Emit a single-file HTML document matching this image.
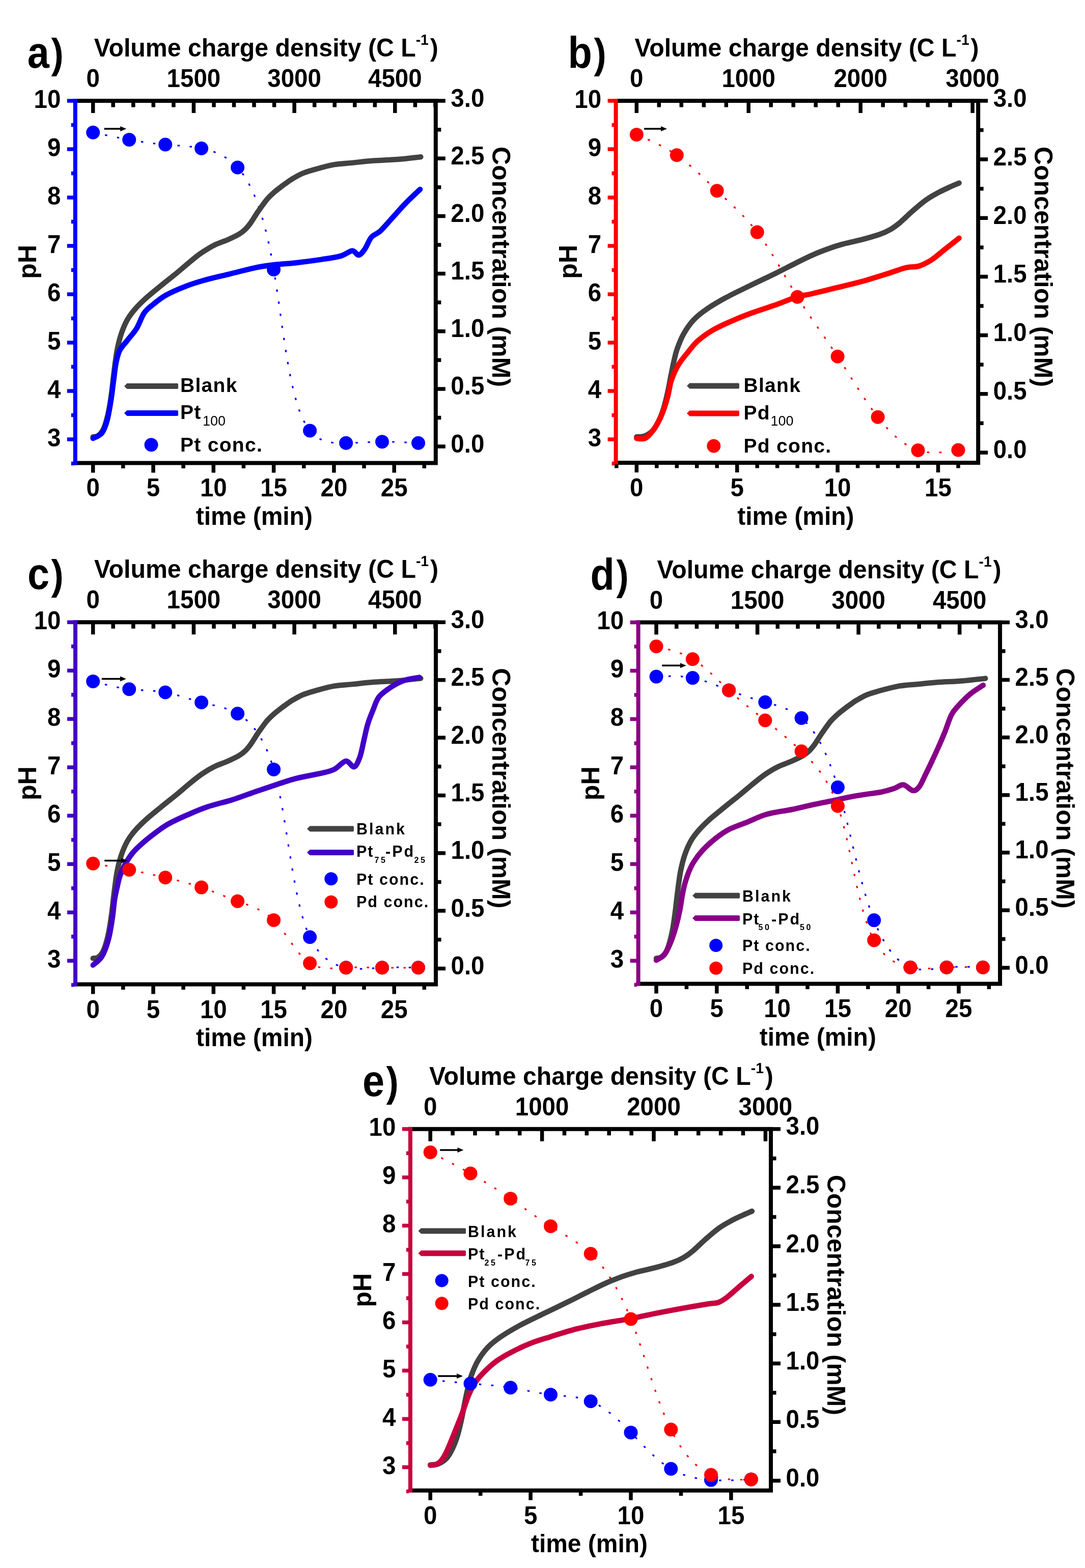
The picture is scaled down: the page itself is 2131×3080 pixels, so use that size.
<!DOCTYPE html>
<html><head><meta charset="utf-8"><title>pH and concentration vs time</title><style>html,body{margin:0;padding:0;background:#fff;overflow:hidden;}svg{display:block;}</style></head><body>
<svg width="2131" height="3080" viewBox="0 0 2131 3080" font-family="'Liberation Sans', Arial, sans-serif" font-weight="bold">
<rect width="2131" height="3080" fill="#fff"/>
<path d="M182.7,260.2 L184.6,260.6 L186.6,261 L188.5,261.4 L190.4,261.8 L192.4,262.2 L194.3,262.6 L196.2,263.1 L198.2,263.5 L200.1,263.9 L202,264.3 L203.9,264.7 L205.9,265.1 L207.8,265.5 L209.7,265.9 L211.7,266.3 L213.6,266.7 L215.5,267.1 L217.5,267.5 L219.4,267.9 L221.3,268.2 L223.3,268.6 L225.2,269 L227.1,269.4 L229.1,269.8 L231,270.2 L232.9,270.5 L234.9,270.9 L236.8,271.3 L238.8,271.7 L240.7,272 L242.6,272.4 L244.6,272.7 L246.5,273.1 L248.4,273.5 L250.4,273.8 L252.3,274.2 L254.3,274.5 L256.2,274.8 L258.1,275.2 L260.1,275.5 L262,275.8 L264,276.2 L265.9,276.5 L267.8,276.8 L269.8,277.1 L271.7,277.4 L273.7,277.7 L275.6,278 L277.6,278.3 L279.5,278.6 L281.4,278.9 L283.4,279.2 L285.3,279.5 L287.3,279.8 L289.2,280 L291.2,280.3 L293.1,280.5 L295.1,280.8 L297,281 L298.9,281.3 L300.9,281.5 L302.8,281.8 L304.8,282 L306.7,282.2 L308.7,282.4 L310.6,282.6 L312.6,282.9 L314.5,283.1 L316.5,283.2 L318.4,283.4 L320.4,283.6 L322.3,283.8 L324.2,284 L326.2,284.1 L328.1,284.3 L330.1,284.4 L332,284.6 L334,284.7 L335.9,284.9 L337.9,285 L339.8,285.2 L341.8,285.3 L343.7,285.4 L345.7,285.6 L347.6,285.7 L349.5,285.9 L351.5,286 L353.4,286.2 L355.4,286.3 L357.3,286.5 L359.3,286.6 L361.2,286.8 L363.2,287 L365.1,287.1 L367.1,287.3 L369,287.5 L371,287.7 L372.9,288 L374.9,288.2 L376.8,288.4 L378.8,288.7 L380.7,289 L382.7,289.2 L384.6,289.5 L386.6,289.8 L388.5,290.2 L390.5,290.5 L392.4,290.9 L394.4,291.2 L396.3,291.6 L398.3,292.1 L400.2,292.5 L402.2,292.9 L404.1,293.4 L406,293.9 L408,294.4 L409.9,295 L411.9,295.6 L413.8,296.2 L415.7,296.8 L417.7,297.4 L419.6,298.1 L421.5,298.8 L423.4,299.6 L425.3,300.3 L427.2,301.1 L429.1,302 L431,302.8 L432.8,303.7 L434.7,304.7 L436.6,305.6 L438.4,306.7 L440.2,307.7 L442,308.8 L443.9,309.9 L445.7,311.1 L447.4,312.3 L449.2,313.5 L451,314.8 L452.7,316.1 L454.4,317.5 L456.2,318.9 L457.9,320.4 L459.5,321.9 L461.2,323.5 L462.9,325.1 L464.5,326.7 L466.1,328.5 L467.7,330.2 L469.3,332 L470.9,333.9 L472.4,335.8 L473.9,337.8 L475.4,339.8 L476.9,341.8 L478.4,343.9 L479.9,346.1 L481.3,348.3 L482.7,350.6 L484.1,352.9 L485.5,355.2 L486.9,357.6 L488.3,360.1 L489.6,362.5 L490.9,365.1 L492.2,367.7 L493.5,370.3 L494.8,373 L496.1,375.7 L497.3,378.5 L498.6,381.3 L499.8,384.2 L501,387.1 L502.2,390 L503.4,393 L504.5,396.1 L505.7,399.2 L506.8,402.3 L507.9,405.5 L509,408.7 L510.1,411.9 L511.2,415.2 L512.3,418.6 L513.3,422 L514.4,425.4 L515.4,428.9 L516.4,432.4 L517.4,435.9 L518.4,439.5 L519.4,443.2 L520.3,446.8 L521.3,450.6 L522.2,454.3 L523.2,458.1 L524.1,462 L525,465.8 L525.9,469.7 L526.8,473.7 L527.7,477.7 L528.5,481.7 L529.4,485.8 L530.2,489.9 L531.1,494 L531.9,498.2 L532.7,502.4 L533.5,506.7 L534.3,511 L535.1,515.3 L535.9,519.7 L536.7,524 L537.4,528.5 L538.2,533 L538.9,537.5 L539.7,542 L540.4,546.6 L541.1,551.1 L541.8,555.8 L542.5,560.4 L543.2,565.1 L543.9,569.8 L544.6,574.5 L545.3,579.2 L546,583.9 L546.7,588.7 L547.4,593.5 L548.1,598.3 L548.8,603.1 L549.4,607.9 L550.1,612.7 L550.8,617.5 L551.5,622.3 L552.2,627.1 L552.8,631.9 L553.5,636.7 L554.2,641.5 L554.9,646.3 L555.6,651.1 L556.3,655.9 L557,660.7 L557.7,665.4 L558.4,670.2 L559.1,674.9 L559.9,679.6 L560.6,684.3 L561.3,688.9 L562.1,693.6 L562.8,698.2 L563.6,702.8 L564.4,707.4 L565.2,711.9 L565.9,716.4 L566.8,720.8 L567.6,725.3 L568.4,729.7 L569.2,734 L570.1,738.3 L571,742.6 L571.8,746.8 L572.7,751 L573.7,755.1 L574.6,759.2 L575.5,763.2 L576.5,767.2 L577.5,771.1 L578.4,775 L579.5,778.8 L580.5,782.5 L581.5,786.2 L582.6,789.8 L583.7,793.3 L584.8,796.8 L585.9,800.2 L587.1,803.6 L588.2,806.9 L589.4,810.1 L590.6,813.2 L591.9,816.2 L593.1,819.2 L594.4,822.1 L595.7,824.9 L597.1,827.6 L598.4,830.2 L599.8,832.8 L601.2,835.2 L602.7,837.6 L604.1,839.8 L605.6,842 L607.2,844.1 L608.7,846.1 L610.3,847.9 L611.9,849.7 L613.6,851.4 L615.2,853 L616.9,854.5 L618.6,855.9 L620.4,857.3 L622.1,858.5 L623.9,859.7 L625.7,860.8 L627.6,861.8 L629.4,862.7 L631.3,863.6 L633.1,864.4 L635,865.2 L637,865.8 L638.9,866.5 L640.8,867 L642.8,867.5 L644.7,868 L646.7,868.4 L648.7,868.8 L650.7,869.1 L652.7,869.4 L654.7,869.6 L656.7,869.8 L658.7,870 L660.8,870.1 L662.8,870.2 L664.8,870.3 L666.8,870.3 L668.9,870.4 L670.9,870.4 L672.9,870.4 L674.9,870.4 L677,870.3 L679,870.3 L681,870.3 L683,870.2 L685,870.2 L687,870.1 L689,870 L691,870 L693,869.9 L694.9,869.8 L696.9,869.8 L698.9,869.7 L700.8,869.6 L702.8,869.5 L704.8,869.4 L706.7,869.3 L708.7,869.2 L710.6,869.2 L712.6,869.1 L714.5,869 L716.4,868.9 L718.4,868.8 L720.3,868.7 L722.3,868.6 L724.2,868.5 L726.1,868.5 L728.1,868.4 L730,868.3 L731.9,868.2 L733.8,868.2 L735.8,868.1 L737.7,868.1 L739.6,868 L741.6,868 L743.5,867.9 L745.4,867.9 L747.4,867.8 L749.3,867.8 L751.2,867.8 L753.2,867.8 L755.1,867.8 L757,867.8 L759,867.8 L760.9,867.8 L762.9,867.8 L764.8,867.9 L766.8,867.9 L768.7,867.9 L770.7,868 L772.6,868 L774.5,868.1 L776.5,868.1 L778.4,868.2 L780.4,868.3 L782.4,868.3 L784.3,868.4 L786.3,868.5 L788.2,868.6 L790.2,868.6 L792.1,868.7 L794.1,868.8 L796,868.9 L798,869 L800,869.1 L801.9,869.2 L803.9,869.3 L805.8,869.4 L807.8,869.5 L809.8,869.6 L811.7,869.7 L813.7,869.9 L815.6,870 L817.6,870.1 L819.6,870.2 L821.5,870.3" fill="none" stroke="#0000FF" stroke-width="3.2" stroke-dasharray="4.5 19.5"/>
<path d="M182.7,858.2 C184.3,857.9 189,858.4 192.2,856.4 C195.3,854.3 198.9,850.8 201.6,845.9 C204.4,841 206.6,834.3 208.7,826.9 C210.9,819.5 212.9,810.8 214.6,801.2 C216.4,791.8 218,780.2 219.4,769.9 C220.8,759.6 221.7,749.3 222.9,739.5 C224.1,729.7 225.2,720 226.5,711 C227.7,702 228.6,694.5 230.5,685.3 C232.4,676.2 234.8,665.4 238.1,655.9 C241.3,646.4 245.4,636.4 249.9,628.4 C254.4,620.3 258.7,614.7 265,607.5 C271.3,600.2 279.4,592.3 287.8,584.7 C296.1,577.1 305.5,569.8 315.2,561.9 C324.9,553.9 336.9,544.6 346,537.2 C355,529.7 362.1,523.4 369.6,517.2 C377.1,511 384.2,505 390.9,500.1 C397.6,495.2 404.3,491.1 409.8,487.8 C415.4,484.4 417.7,483 424,480.1 C430.3,477.3 440.2,474 447.7,470.7 C455.2,467.3 463.3,463.5 469,460.2 C474.6,456.9 477.6,454.5 481.5,450.7 C485.5,446.9 488.4,443.3 492.6,437.4 C496.9,431.5 501.7,423 506.8,415.6 C512,408.1 518.3,398.9 523.4,392.8 C528.5,386.6 532.9,382.8 537.6,378.5 C542.3,374.2 547.7,370.3 551.8,367.1 C555.9,363.9 558.7,362 562.2,359.5 C565.8,357 567.7,355.1 573.1,351.9 C578.5,348.7 586.9,343.7 594.4,340.5 C601.9,337.3 607.8,335.8 618,332.9 C628.3,330 643.3,325.6 655.9,323.4 C668.5,321.2 681.1,320.9 693.8,319.6 C706.4,318.3 717,316.9 731.6,315.8 C746.2,314.7 765.5,314.2 781.3,313 C797.1,311.7 818.8,309 826.3,308.2" fill="none" stroke="#424242" stroke-width="10.5" stroke-linejoin="round" stroke-linecap="round"/>
<path d="M182.7,861.1 C185.6,859.4 195.6,856.5 200.2,850.6 C204.8,844.8 207.5,836.4 210.4,825.9 C213.3,815.5 215.7,800.5 217.7,788 C219.8,775.4 221,763.4 222.7,750.9 C224.4,738.4 225.8,723.3 227.9,712.9 C230,702.5 231.5,695.6 235.2,688.2 C239,680.8 244.9,675.4 250.4,668.2 C255.8,661.1 262.7,654.3 268.1,645.5 C273.6,636.6 277.6,623 283,615 C288.5,607.1 293.6,603.8 300.8,598 C307.9,592.1 315.4,585.8 325.8,579.9 C336.3,574 350.9,567.7 363.5,562.8 C376,557.9 386.4,554.6 401.1,550.5 C415.8,546.3 434.7,542.2 451.5,538.1 C468.2,534 487,528.8 501.6,525.8 C516.3,522.7 526.2,521.6 539.5,520 C552.8,518.5 566,518 581.4,516.2 C596.7,514.5 616.9,511.8 631.5,509.6 C646.2,507.4 659.1,505.8 669.1,502.9 C679.2,500.1 686,492.8 691.9,492.5 C697.7,492.2 700.2,501.7 704.4,501.1 C708.6,500.4 712.8,494.6 716.9,488.7 C721.1,482.8 724.4,471.8 729.5,465.9 C734.5,460 740.1,460.2 747.2,453.6 C754.4,446.9 763.9,435.2 772.3,426 C780.7,416.8 788.6,407.5 797.4,398.5 C806.2,389.4 820.5,376.3 825.1,371.9" fill="none" stroke="#0000FF" stroke-width="10.5" stroke-linejoin="round" stroke-linecap="round"/>
<circle cx="182.7" cy="260.2" r="13.5" fill="#0000FF"/><circle cx="253.7" cy="274.4" r="13.5" fill="#0000FF"/><circle cx="324.7" cy="284" r="13.5" fill="#0000FF"/><circle cx="395.6" cy="291.5" r="13.5" fill="#0000FF"/><circle cx="466.6" cy="329" r="13.5" fill="#0000FF"/><circle cx="537.6" cy="529.5" r="13.5" fill="#0000FF"/><circle cx="608.6" cy="845.9" r="13.5" fill="#0000FF"/><circle cx="679.6" cy="870.3" r="13.5" fill="#0000FF"/><circle cx="750.5" cy="867.8" r="13.5" fill="#0000FF"/><circle cx="821.5" cy="870.3" r="13.5" fill="#0000FF"/>
<line x1="204.6" y1="253" x2="240.2" y2="253" stroke="#000" stroke-width="3.5"/><path d="M236.2,248 L248.2,253 L236.2,258 Z" fill="#000"/>
<polygon points="244,758.5 249.5,753 348.5,753 350,754.5 350,762.5 348.5,764 249.5,764" fill="#424242"/>
<polygon points="244,811.5 249.5,806 348.5,806 350,807.5 350,815.5 348.5,817 249.5,817" fill="#0000FF"/>
<circle cx="297" cy="873.7" r="13.5" fill="#0000FF"/>
<text x="354" y="770.4" font-size="39" text-anchor="start" fill="#000" letter-spacing="1.3">Blank</text>
<text x="354" y="823" font-size="39" letter-spacing="1.3">Pt<tspan x="398" y="836" font-size="27" font-weight="normal" letter-spacing="0">100</tspan></text>
<text x="354" y="887" font-size="39" text-anchor="start" fill="#000" letter-spacing="1.3">Pt conc.</text>
<path d="M147.8,198 H855.8 V909.4 H147.8" fill="none" stroke="#000" stroke-width="8" stroke-linecap="square"/>
<line x1="147.8" y1="198" x2="147.8" y2="909.4" stroke="#0000FF" stroke-width="8" stroke-linecap="square"/>
<path d="M182.7,912.4 V928.4 M301,912.4 V928.4 M419.3,912.4 V928.4 M537.6,912.4 V928.4 M655.9,912.4 V928.4 M774.2,912.4 V928.4 M241.8,912.4 V919.9 M360.1,912.4 V919.9 M478.4,912.4 V919.9 M596.8,912.4 V919.9 M715,912.4 V919.9 M833.3,912.4 V919.9 M182.7,201 V222 M222.2,201 V210.5 M261.8,201 V210.5 M301.3,201 V210.5 M340.9,201 V210.5 M380.4,201 V222 M420,201 V210.5 M459.5,201 V210.5 M499,201 V210.5 M538.6,201 V210.5 M578.1,201 V222 M617.7,201 V210.5 M657.2,201 V210.5 M696.8,201 V210.5 M736.3,201 V210.5 M775.8,201 V222 M815.4,201 V210.5 M854.9,201 V210.5 M858.8,877 H874.8 M858.8,820.4 H866.3 M858.8,763.9 H874.8 M858.8,707.3 H866.3 M858.8,650.7 H874.8 M858.8,594.1 H866.3 M858.8,537.5 H874.8 M858.8,481 H866.3 M858.8,424.4 H874.8 M858.8,367.8 H866.3 M858.8,311.2 H874.8 M858.8,254.7 H866.3 M858.8,198.1 H874.8" stroke="#000" stroke-width="7.5" fill="none"/>
<path d="M144.8,198 H131.8 M144.8,245.5 H139.8 M144.8,293 H131.8 M144.8,340.5 H139.8 M144.8,388 H131.8 M144.8,435.5 H139.8 M144.8,483 H131.8 M144.8,530.5 H139.8 M144.8,578 H131.8 M144.8,625.5 H139.8 M144.8,673 H131.8 M144.8,720.5 H139.8 M144.8,768 H131.8 M144.8,815.5 H139.8 M144.8,863 H131.8 M144.8,910.5 H139.8" stroke="#0000FF" stroke-width="7.5" fill="none"/>
<text transform="translate(182.7,975.4) scale(0.940,1)" font-size="50.5" text-anchor="middle">0</text>
<text transform="translate(301,975.4) scale(0.940,1)" font-size="50.5" text-anchor="middle">5</text>
<text transform="translate(419.3,975.4) scale(0.940,1)" font-size="50.5" text-anchor="middle">10</text>
<text transform="translate(537.6,975.4) scale(0.940,1)" font-size="50.5" text-anchor="middle">15</text>
<text transform="translate(655.9,975.4) scale(0.940,1)" font-size="50.5" text-anchor="middle">20</text>
<text transform="translate(774.2,975.4) scale(0.940,1)" font-size="50.5" text-anchor="middle">25</text>
<text transform="translate(182.7,171) scale(0.940,1)" font-size="50.5" text-anchor="middle">0</text>
<text transform="translate(380.4,171) scale(0.940,1)" font-size="50.5" text-anchor="middle">1500</text>
<text transform="translate(578.1,171) scale(0.940,1)" font-size="50.5" text-anchor="middle">3000</text>
<text transform="translate(775.8,171) scale(0.940,1)" font-size="50.5" text-anchor="middle">4500</text>
<text transform="translate(119.3,876.5) scale(0.940,1)" font-size="50.5" text-anchor="end">3</text>
<text transform="translate(119.3,781.5) scale(0.940,1)" font-size="50.5" text-anchor="end">4</text>
<text transform="translate(119.3,686.5) scale(0.940,1)" font-size="50.5" text-anchor="end">5</text>
<text transform="translate(119.3,591.5) scale(0.940,1)" font-size="50.5" text-anchor="end">6</text>
<text transform="translate(119.3,496.5) scale(0.940,1)" font-size="50.5" text-anchor="end">7</text>
<text transform="translate(119.3,401.5) scale(0.940,1)" font-size="50.5" text-anchor="end">8</text>
<text transform="translate(119.3,306.5) scale(0.940,1)" font-size="50.5" text-anchor="end">9</text>
<text transform="translate(119.3,211.5) scale(0.940,1)" font-size="50.5" text-anchor="end">10</text>
<text transform="translate(885.3,888.5) scale(0.940,1)" font-size="50.5" text-anchor="start">0.0</text>
<text transform="translate(885.3,775.4) scale(0.940,1)" font-size="50.5" text-anchor="start">0.5</text>
<text transform="translate(885.3,662.2) scale(0.940,1)" font-size="50.5" text-anchor="start">1.0</text>
<text transform="translate(885.3,549) scale(0.940,1)" font-size="50.5" text-anchor="start">1.5</text>
<text transform="translate(885.3,435.9) scale(0.940,1)" font-size="50.5" text-anchor="start">2.0</text>
<text transform="translate(885.3,322.8) scale(0.940,1)" font-size="50.5" text-anchor="start">2.5</text>
<text transform="translate(885.3,209.6) scale(0.940,1)" font-size="50.5" text-anchor="start">3.0</text>
<text transform="translate(499.3,1030.9) scale(0.952,1)" font-size="50.4" text-anchor="middle">time (min)</text>
<text transform="translate(184.8,111) scale(0.975,1)" font-size="49.5" text-anchor="start">Volume charge density (C L<tspan font-size="29" dy="-23">-1</tspan><tspan dy="23" dx="3">)</tspan></text>
<text transform="translate(70.8,514.3) rotate(-90)" font-size="50" text-anchor="middle">pH</text>
<text transform="translate(966.8,524) rotate(90)" font-size="50" text-anchor="middle">Concentration (mM)</text>
<text transform="translate(53.8,133) scale(0.890,1)" font-size="87" text-anchor="start">a<tspan font-size="82" dx="4">)</tspan></text>
<path d="M1250.3,264.4 L1252.1,265.2 L1254,266 L1255.8,266.7 L1257.6,267.5 L1259.5,268.3 L1261.3,269.1 L1263.1,269.9 L1265,270.7 L1266.8,271.5 L1268.6,272.3 L1270.4,273.1 L1272.3,273.9 L1274.1,274.7 L1275.9,275.5 L1277.7,276.4 L1279.5,277.2 L1281.4,278 L1283.2,278.9 L1285,279.7 L1286.8,280.6 L1288.6,281.5 L1290.4,282.3 L1292.2,283.2 L1294,284.1 L1295.8,285 L1297.6,286 L1299.4,286.9 L1301.2,287.8 L1303,288.8 L1304.7,289.7 L1306.5,290.7 L1308.3,291.7 L1310.1,292.7 L1311.8,293.7 L1313.6,294.8 L1315.4,295.8 L1317.1,296.9 L1318.9,298 L1320.6,299.1 L1322.4,300.2 L1324.1,301.3 L1325.8,302.5 L1327.5,303.6 L1329.3,304.8 L1331,306 L1332.7,307.2 L1334.4,308.5 L1336.1,309.7 L1337.8,311 L1339.5,312.3 L1341.2,313.6 L1342.9,314.9 L1344.5,316.2 L1346.2,317.6 L1347.9,318.9 L1349.6,320.3 L1351.2,321.7 L1352.9,323.1 L1354.5,324.5 L1356.2,325.9 L1357.8,327.4 L1359.5,328.8 L1361.1,330.3 L1362.8,331.7 L1364.4,333.2 L1366.1,334.7 L1367.7,336.2 L1369.3,337.7 L1371,339.2 L1372.6,340.7 L1374.2,342.2 L1375.8,343.8 L1377.5,345.3 L1379.1,346.8 L1380.7,348.4 L1382.3,349.9 L1384,351.5 L1385.6,353 L1387.2,354.6 L1388.8,356.1 L1390.4,357.7 L1392.1,359.2 L1393.7,360.8 L1395.3,362.3 L1396.9,363.9 L1398.5,365.5 L1400.2,367 L1401.8,368.6 L1403.4,370.1 L1405,371.7 L1406.6,373.2 L1408.3,374.7 L1409.9,376.3 L1411.5,377.8 L1413.1,379.3 L1414.8,380.9 L1416.4,382.4 L1418,383.9 L1419.7,385.4 L1421.3,387 L1422.9,388.5 L1424.5,390 L1426.2,391.5 L1427.8,393.1 L1429.4,394.6 L1431.1,396.1 L1432.7,397.6 L1434.3,399.2 L1435.9,400.7 L1437.5,402.2 L1439.2,403.8 L1440.8,405.3 L1442.4,406.9 L1444,408.5 L1445.6,410 L1447.2,411.6 L1448.8,413.2 L1450.4,414.8 L1452,416.4 L1453.6,418 L1455.2,419.6 L1456.8,421.2 L1458.4,422.9 L1460,424.5 L1461.6,426.2 L1463.1,427.9 L1464.7,429.5 L1466.3,431.2 L1467.8,433 L1469.4,434.7 L1470.9,436.4 L1472.5,438.2 L1474,439.9 L1475.5,441.7 L1477.1,443.5 L1478.6,445.3 L1480.1,447.2 L1481.6,449 L1483.1,450.9 L1484.6,452.8 L1486.1,454.7 L1487.6,456.6 L1489.1,458.6 L1490.5,460.6 L1492,462.5 L1493.5,464.6 L1494.9,466.6 L1496.4,468.6 L1497.8,470.7 L1499.2,472.8 L1500.6,474.8 L1502.1,477 L1503.5,479.1 L1504.9,481.2 L1506.3,483.4 L1507.7,485.5 L1509.1,487.7 L1510.5,489.9 L1511.9,492.1 L1513.3,494.3 L1514.7,496.5 L1516,498.7 L1517.4,501 L1518.8,503.2 L1520.2,505.5 L1521.5,507.7 L1522.9,510 L1524.3,512.3 L1525.6,514.6 L1527,516.9 L1528.3,519.2 L1529.7,521.5 L1531,523.8 L1532.4,526.1 L1533.7,528.4 L1535.1,530.7 L1536.4,533 L1537.8,535.3 L1539.1,537.7 L1540.5,540 L1541.8,542.3 L1543.2,544.6 L1544.5,546.9 L1545.9,549.3 L1547.2,551.6 L1548.6,553.9 L1549.9,556.2 L1551.3,558.5 L1552.6,560.8 L1554,563.1 L1555.4,565.4 L1556.7,567.7 L1558.1,570 L1559.5,572.2 L1560.8,574.5 L1562.2,576.8 L1563.6,579 L1564.9,581.3 L1566.3,583.5 L1567.7,585.7 L1569.1,587.9 L1570.5,590.1 L1571.9,592.3 L1573.3,594.5 L1574.7,596.7 L1576.1,598.9 L1577.5,601 L1578.9,603.2 L1580.3,605.3 L1581.7,607.5 L1583.1,609.6 L1584.6,611.8 L1586,613.9 L1587.4,616 L1588.8,618.1 L1590.3,620.2 L1591.7,622.3 L1593.1,624.4 L1594.5,626.5 L1596,628.6 L1597.4,630.7 L1598.8,632.8 L1600.3,634.9 L1601.7,636.9 L1603.1,639 L1604.6,641.1 L1606,643.2 L1607.5,645.2 L1608.9,647.3 L1610.3,649.4 L1611.8,651.4 L1613.2,653.5 L1614.6,655.6 L1616.1,657.6 L1617.5,659.7 L1618.9,661.8 L1620.4,663.8 L1621.8,665.9 L1623.3,668 L1624.7,670.1 L1626.1,672.1 L1627.5,674.2 L1629,676.3 L1630.4,678.4 L1631.8,680.5 L1633.2,682.6 L1634.7,684.7 L1636.1,686.8 L1637.5,688.9 L1638.9,691 L1640.3,693.1 L1641.7,695.2 L1643.2,697.3 L1644.6,699.5 L1646,701.6 L1647.4,703.8 L1648.8,705.9 L1650.2,708.1 L1651.5,710.2 L1652.9,712.4 L1654.3,714.6 L1655.7,716.7 L1657.1,718.9 L1658.5,721.1 L1659.9,723.3 L1661.3,725.5 L1662.6,727.7 L1664,729.9 L1665.4,732.1 L1666.8,734.3 L1668.2,736.5 L1669.5,738.6 L1670.9,740.8 L1672.3,743 L1673.7,745.2 L1675.1,747.4 L1676.4,749.6 L1677.8,751.8 L1679.2,754 L1680.6,756.2 L1682,758.4 L1683.4,760.6 L1684.8,762.7 L1686.2,764.9 L1687.6,767.1 L1689,769.2 L1690.4,771.4 L1691.8,773.6 L1693.2,775.7 L1694.6,777.9 L1696,780 L1697.4,782.1 L1698.8,784.2 L1700.3,786.4 L1701.7,788.5 L1703.1,790.6 L1704.6,792.7 L1706,794.7 L1707.5,796.8 L1708.9,798.9 L1710.4,800.9 L1711.8,803 L1713.3,805 L1714.8,807 L1716.2,809 L1717.7,811 L1719.2,813 L1720.7,815 L1722.2,816.9 L1723.7,818.9 L1725.3,820.8 L1726.8,822.7 L1728.3,824.6 L1729.8,826.5 L1731.4,828.4 L1732.9,830.3 L1734.5,832.1 L1736.1,833.9 L1737.6,835.7 L1739.2,837.5 L1740.8,839.3 L1742.4,841 L1744,842.7 L1745.6,844.4 L1747.2,846.1 L1748.8,847.8 L1750.4,849.4 L1752.1,851 L1753.7,852.6 L1755.4,854.1 L1757,855.7 L1758.7,857.2 L1760.3,858.6 L1762,860.1 L1763.7,861.5 L1765.4,862.9 L1767,864.3 L1768.7,865.6 L1770.4,866.9 L1772.1,868.1 L1773.9,869.4 L1775.6,870.6 L1777.3,871.7 L1779,872.9 L1780.8,874 L1782.5,875 L1784.3,876.1 L1786,877.1 L1787.8,878 L1789.6,878.9 L1791.3,879.8 L1793.1,880.6 L1794.9,881.4 L1796.7,882.2 L1798.5,882.9 L1800.3,883.6 L1802.1,884.2 L1804,884.8 L1805.8,885.3 L1807.6,885.8 L1809.4,886.3 L1811.3,886.7 L1813.1,887.1 L1815,887.5 L1816.8,887.8 L1818.7,888 L1820.6,888.3 L1822.4,888.5 L1824.3,888.7 L1826.2,888.8 L1828.1,888.9 L1830,889 L1831.9,889.1 L1833.8,889.1 L1835.7,889.1 L1837.6,889.1 L1839.5,889 L1841.4,888.9 L1843.3,888.8 L1845.2,888.7 L1847.1,888.6 L1849.1,888.4 L1851,888.3 L1852.9,888.1 L1854.8,887.9 L1856.8,887.7 L1858.7,887.4 L1860.6,887.2 L1862.6,886.9 L1864.5,886.7 L1866.4,886.4 L1868.4,886.1 L1870.3,885.8 L1872.3,885.5 L1874.2,885.2 L1876.1,884.9 L1878.1,884.6 L1880,884.3 L1882,884" fill="none" stroke="#FF0000" stroke-width="3.2" stroke-dasharray="4.5 19.5"/>
<path d="M1250.3,858.2 C1252.9,857.9 1260.8,858.4 1266.1,856.4 C1271.4,854.3 1277.3,850.8 1281.9,845.9 C1286.5,841 1290.1,834.3 1293.7,826.9 C1297.3,819.5 1300.6,810.8 1303.6,801.2 C1306.6,791.8 1309.2,780.2 1311.5,769.9 C1313.8,759.6 1315.4,749.3 1317.4,739.5 C1319.4,729.7 1321.2,720 1323.3,711 C1325.4,702 1326.8,694.5 1330,685.3 C1333.3,676.2 1337.3,665.4 1342.7,655.9 C1348.1,646.4 1354.9,636.4 1362.4,628.4 C1369.9,620.3 1377.2,614.7 1387.7,607.5 C1398.2,600.2 1411.6,592.3 1425.6,584.7 C1439.5,577.1 1455.2,569.8 1471.4,561.9 C1487.6,553.9 1507.6,544.6 1522.7,537.2 C1537.8,529.7 1549.7,523.4 1562.2,517.2 C1574.7,511 1586.5,505 1597.7,500.1 C1608.9,495.2 1620.1,491.1 1629.3,487.8 C1638.5,484.4 1642.5,483 1653,480.1 C1663.5,477.3 1680,474 1692.5,470.7 C1705,467.3 1718.6,463.5 1728,460.2 C1737.4,456.9 1742.4,454.5 1748.9,450.7 C1755.5,446.9 1760.4,443.3 1767.5,437.4 C1774.5,431.5 1782.6,423 1791.2,415.6 C1799.7,408.1 1810.3,398.9 1818.8,392.8 C1827.4,386.6 1834.6,382.8 1842.5,378.5 C1850.4,374.2 1859.3,370.3 1866.2,367.1 C1873,363.9 1880.7,360.8 1883.6,359.5" fill="none" stroke="#424242" stroke-width="10.5" stroke-linejoin="round" stroke-linecap="round"/>
<path d="M1250.3,861.1 C1253.1,861.1 1261.6,863.6 1266.9,861.1 C1272.2,858.6 1277.7,851.8 1282.3,845.9 C1286.9,840 1290.8,833.4 1294.5,825.9 C1298.3,818.5 1301.8,809.6 1304.8,801.2 C1307.7,792.9 1310.2,784 1312.3,775.6 C1314.4,767.2 1315.3,758.3 1317.4,750.9 C1319.5,743.5 1322,737.3 1324.9,731 C1327.8,724.6 1330.6,719.2 1334.8,712.9 C1339,706.6 1344.3,700.1 1350.2,693 C1356,685.8 1361.6,677.6 1369.9,670.1 C1378.3,662.7 1389,654.9 1400.3,648.3 C1411.6,641.6 1425.3,635.8 1437.8,630.2 C1450.4,624.7 1461.1,620.4 1475.7,615 C1490.4,609.7 1510.8,603.3 1525.9,598 C1540.9,592.6 1555.4,586.1 1566.1,582.8 C1576.9,579.4 1577.8,580.9 1590.2,578 C1602.7,575.1 1623.9,569.8 1640.8,565.7 C1657.6,561.5 1674.5,557.9 1691.3,553.3 C1708.1,548.7 1726.8,542.7 1741.4,538.1 C1756.1,533.5 1768.9,528.3 1779.3,525.8 C1789.8,523.2 1795.8,525.4 1804.2,522.9 C1812.6,520.4 1821,515.9 1829.5,510.6 C1837.9,505.2 1845.7,497.7 1854.7,490.6 C1863.8,483.5 1878.8,471.6 1883.6,467.8" fill="none" stroke="#FF0000" stroke-width="10.5" stroke-linejoin="round" stroke-linecap="round"/>
<circle cx="1250.3" cy="264.4" r="13.5" fill="#FF0000"/><circle cx="1329.3" cy="304.8" r="13.5" fill="#FF0000"/><circle cx="1408.2" cy="374.7" r="13.5" fill="#FF0000"/><circle cx="1487.2" cy="456.1" r="13.5" fill="#FF0000"/><circle cx="1566.1" cy="583.2" r="13.5" fill="#FF0000"/><circle cx="1645.1" cy="700.3" r="13.5" fill="#FF0000"/><circle cx="1724.1" cy="819.3" r="13.5" fill="#FF0000"/><circle cx="1803" cy="884.5" r="13.5" fill="#FF0000"/><circle cx="1882" cy="884" r="13.5" fill="#FF0000"/>
<line x1="1265" y1="253" x2="1302" y2="253" stroke="#000" stroke-width="3.5"/><path d="M1298,248 L1310,253 L1298,258 Z" fill="#000"/>
<polygon points="1349,758.1 1354.5,752.6 1450.5,752.6 1452,754.1 1452,762.1 1450.5,763.6 1354.5,763.6" fill="#424242"/>
<polygon points="1349,812 1354.5,806.5 1450.5,806.5 1452,808 1452,816 1450.5,817.5 1354.5,817.5" fill="#FF0000"/>
<circle cx="1401.8" cy="876" r="13.5" fill="#FF0000"/>
<text x="1460.5" y="770" font-size="39" text-anchor="start" fill="#000" letter-spacing="1.3">Blank</text>
<text x="1460.5" y="823.5" font-size="39" letter-spacing="1.3">Pd<tspan x="1513.5" y="836" font-size="27" font-weight="normal" letter-spacing="0">100</tspan></text>
<text x="1460.5" y="888.5" font-size="39" text-anchor="start" fill="#000" letter-spacing="1.3">Pd conc.</text>
<path d="M1209.6,198 H1921.2 V909 H1209.6" fill="none" stroke="#000" stroke-width="8" stroke-linecap="square"/>
<line x1="1209.6" y1="198" x2="1209.6" y2="909" stroke="#FF0000" stroke-width="8" stroke-linecap="square"/>
<path d="M1250.3,912 V928 M1447.7,912 V928 M1645.1,912 V928 M1842.5,912 V928 M1210.8,912 V919.5 M1289.8,912 V919.5 M1329.3,912 V919.5 M1368.7,912 V919.5 M1408.2,912 V919.5 M1487.2,912 V919.5 M1526.7,912 V919.5 M1566.1,912 V919.5 M1605.6,912 V919.5 M1684.6,912 V919.5 M1724.1,912 V919.5 M1763.5,912 V919.5 M1803,912 V919.5 M1882,912 V919.5 M1250.3,201 V222 M1294.3,201 V210.5 M1338.3,201 V210.5 M1382.3,201 V210.5 M1426.3,201 V210.5 M1470.2,201 V222 M1514.2,201 V210.5 M1558.2,201 V210.5 M1602.2,201 V210.5 M1646.2,201 V210.5 M1690.2,201 V222 M1734.2,201 V210.5 M1778.2,201 V210.5 M1822.2,201 V210.5 M1866.1,201 V210.5 M1910.1,201 V222 M1924.2,888.9 H1940.2 M1924.2,831.3 H1931.7 M1924.2,773.8 H1940.2 M1924.2,716.2 H1931.7 M1924.2,658.6 H1940.2 M1924.2,601 H1931.7 M1924.2,543.4 H1940.2 M1924.2,485.9 H1931.7 M1924.2,428.3 H1940.2 M1924.2,370.7 H1931.7 M1924.2,313.1 H1940.2 M1924.2,255.6 H1931.7 M1924.2,198 H1940.2" stroke="#000" stroke-width="7.5" fill="none"/>
<path d="M1206.6,198 H1193.6 M1206.6,245.5 H1201.6 M1206.6,293 H1193.6 M1206.6,340.5 H1201.6 M1206.6,388 H1193.6 M1206.6,435.5 H1201.6 M1206.6,483 H1193.6 M1206.6,530.5 H1201.6 M1206.6,578 H1193.6 M1206.6,625.5 H1201.6 M1206.6,673 H1193.6 M1206.6,720.5 H1201.6 M1206.6,768 H1193.6 M1206.6,815.5 H1201.6 M1206.6,863 H1193.6 M1206.6,910.5 H1201.6" stroke="#FF0000" stroke-width="7.5" fill="none"/>
<text transform="translate(1250.3,975) scale(0.940,1)" font-size="50.5" text-anchor="middle">0</text>
<text transform="translate(1447.7,975) scale(0.940,1)" font-size="50.5" text-anchor="middle">5</text>
<text transform="translate(1645.1,975) scale(0.940,1)" font-size="50.5" text-anchor="middle">10</text>
<text transform="translate(1842.5,975) scale(0.940,1)" font-size="50.5" text-anchor="middle">15</text>
<text transform="translate(1250.3,171) scale(0.940,1)" font-size="50.5" text-anchor="middle">0</text>
<text transform="translate(1470.2,171) scale(0.940,1)" font-size="50.5" text-anchor="middle">1000</text>
<text transform="translate(1690.2,171) scale(0.940,1)" font-size="50.5" text-anchor="middle">2000</text>
<text transform="translate(1910.1,171) scale(0.940,1)" font-size="50.5" text-anchor="middle">3000</text>
<text transform="translate(1181.1,876.5) scale(0.940,1)" font-size="50.5" text-anchor="end">3</text>
<text transform="translate(1181.1,781.5) scale(0.940,1)" font-size="50.5" text-anchor="end">4</text>
<text transform="translate(1181.1,686.5) scale(0.940,1)" font-size="50.5" text-anchor="end">5</text>
<text transform="translate(1181.1,591.5) scale(0.940,1)" font-size="50.5" text-anchor="end">6</text>
<text transform="translate(1181.1,496.5) scale(0.940,1)" font-size="50.5" text-anchor="end">7</text>
<text transform="translate(1181.1,401.5) scale(0.940,1)" font-size="50.5" text-anchor="end">8</text>
<text transform="translate(1181.1,306.5) scale(0.940,1)" font-size="50.5" text-anchor="end">9</text>
<text transform="translate(1181.1,211.5) scale(0.940,1)" font-size="50.5" text-anchor="end">10</text>
<text transform="translate(1950.7,900.4) scale(0.940,1)" font-size="50.5" text-anchor="start">0.0</text>
<text transform="translate(1950.7,785.2) scale(0.940,1)" font-size="50.5" text-anchor="start">0.5</text>
<text transform="translate(1950.7,670.1) scale(0.940,1)" font-size="50.5" text-anchor="start">1.0</text>
<text transform="translate(1950.7,554.9) scale(0.940,1)" font-size="50.5" text-anchor="start">1.5</text>
<text transform="translate(1950.7,439.8) scale(0.940,1)" font-size="50.5" text-anchor="start">2.0</text>
<text transform="translate(1950.7,324.6) scale(0.940,1)" font-size="50.5" text-anchor="start">2.5</text>
<text transform="translate(1950.7,209.5) scale(0.940,1)" font-size="50.5" text-anchor="start">3.0</text>
<text transform="translate(1562.9,1030.5) scale(0.952,1)" font-size="50.4" text-anchor="middle">time (min)</text>
<text transform="translate(1246.6,111) scale(0.975,1)" font-size="49.5" text-anchor="start">Volume charge density (C L<tspan font-size="29" dy="-23">-1</tspan><tspan dy="23" dx="3">)</tspan></text>
<text transform="translate(1132.6,514.3) rotate(-90)" font-size="50" text-anchor="middle">pH</text>
<text transform="translate(2032.2,524) rotate(90)" font-size="50" text-anchor="middle">Concentration (mM)</text>
<text transform="translate(1115.6,133) scale(0.890,1)" font-size="87" text-anchor="start">b<tspan font-size="82" dx="4">)</tspan></text>
<path d="M182.7,1338.4 L184.6,1338.9 L186.5,1339.4 L188.3,1339.9 L190.2,1340.4 L192.1,1340.9 L194,1341.4 L195.9,1341.9 L197.7,1342.4 L199.6,1342.8 L201.5,1343.3 L203.4,1343.8 L205.3,1344.3 L207.2,1344.7 L209,1345.2 L210.9,1345.7 L212.8,1346.1 L214.7,1346.6 L216.6,1347 L218.5,1347.4 L220.3,1347.9 L222.2,1348.3 L224.1,1348.7 L226,1349.1 L227.9,1349.5 L229.8,1349.9 L231.7,1350.2 L233.6,1350.6 L235.5,1350.9 L237.4,1351.3 L239.3,1351.6 L241.2,1351.9 L243,1352.2 L244.9,1352.5 L246.8,1352.8 L248.7,1353.1 L250.6,1353.3 L252.6,1353.6 L254.5,1353.8 L256.4,1354 L258.3,1354.2 L260.2,1354.4 L262.1,1354.6 L264,1354.7 L265.9,1354.9 L267.8,1355 L269.7,1355.1 L271.6,1355.3 L273.6,1355.4 L275.5,1355.5 L277.4,1355.6 L279.3,1355.7 L281.2,1355.9 L283.1,1356 L285,1356.1 L286.9,1356.2 L288.9,1356.3 L290.8,1356.4 L292.7,1356.5 L294.6,1356.6 L296.5,1356.8 L298.4,1356.9 L300.3,1357.1 L302.2,1357.2 L304.1,1357.4 L306,1357.5 L307.9,1357.7 L309.8,1357.9 L311.7,1358.1 L313.6,1358.4 L315.5,1358.6 L317.4,1358.9 L319.3,1359.1 L321.2,1359.4 L323.1,1359.7 L325,1360.1 L326.9,1360.4 L328.7,1360.8 L330.6,1361.2 L332.5,1361.6 L334.4,1362 L336.2,1362.4 L338.1,1362.9 L340,1363.4 L341.9,1363.9 L343.7,1364.4 L345.6,1364.9 L347.5,1365.4 L349.3,1365.9 L351.2,1366.5 L353.1,1367 L354.9,1367.6 L356.8,1368.1 L358.7,1368.7 L360.5,1369.3 L362.4,1369.8 L364.3,1370.4 L366.1,1371 L368,1371.6 L369.9,1372.2 L371.7,1372.7 L373.6,1373.3 L375.5,1373.9 L377.4,1374.5 L379.2,1375 L381.1,1375.6 L383,1376.2 L384.9,1376.7 L386.8,1377.3 L388.6,1377.8 L390.5,1378.3 L392.4,1378.8 L394.3,1379.4 L396.2,1379.8 L398.1,1380.3 L400,1380.8 L401.9,1381.3 L403.8,1381.7 L405.7,1382.2 L407.6,1382.6 L409.6,1383 L411.5,1383.5 L413.4,1383.9 L415.3,1384.3 L417.2,1384.8 L419.1,1385.2 L421,1385.6 L422.9,1386.1 L424.8,1386.5 L426.7,1387 L428.6,1387.5 L430.5,1388 L432.4,1388.5 L434.3,1389 L436.2,1389.5 L438,1390 L439.9,1390.6 L441.8,1391.2 L443.6,1391.8 L445.5,1392.4 L447.3,1393 L449.2,1393.7 L451,1394.4 L452.8,1395.1 L454.6,1395.9 L456.4,1396.7 L458.2,1397.5 L460,1398.3 L461.8,1399.2 L463.6,1400.1 L465.3,1401.1 L467.1,1402.1 L468.8,1403.1 L470.5,1404.2 L472.2,1405.3 L474,1406.4 L475.6,1407.6 L477.3,1408.9 L479,1410.2 L480.6,1411.5 L482.3,1412.9 L483.9,1414.3 L485.5,1415.7 L487.1,1417.2 L488.7,1418.8 L490.3,1420.4 L491.9,1422 L493.4,1423.7 L494.9,1425.4 L496.5,1427.2 L498,1429 L499.5,1430.9 L501,1432.8 L502.4,1434.7 L503.9,1436.8 L505.3,1438.8 L506.8,1440.9 L508.2,1443.1 L509.6,1445.3 L511,1447.6 L512.3,1449.9 L513.7,1452.2 L515,1454.6 L516.3,1457.1 L517.6,1459.6 L518.9,1462.2 L520.2,1464.8 L521.5,1467.5 L522.7,1470.2 L524,1473 L525.2,1475.9 L526.4,1478.8 L527.6,1481.7 L528.7,1484.7 L529.9,1487.8 L531,1490.9 L532.1,1494.1 L533.2,1497.3 L534.3,1500.6 L535.4,1504 L536.4,1507.4 L537.4,1510.9 L538.5,1514.4 L539.5,1518 L540.4,1521.6 L541.4,1525.3 L542.3,1529.1 L543.3,1532.9 L544.2,1536.8 L545.1,1540.7 L546,1544.6 L546.9,1548.6 L547.7,1552.7 L548.6,1556.7 L549.4,1560.9 L550.3,1565 L551.1,1569.2 L551.9,1573.4 L552.7,1577.7 L553.5,1582 L554.3,1586.3 L555,1590.6 L555.8,1595 L556.6,1599.4 L557.3,1603.8 L558.1,1608.3 L558.8,1612.7 L559.6,1617.2 L560.3,1621.7 L561,1626.2 L561.8,1630.7 L562.5,1635.3 L563.2,1639.8 L564,1644.4 L564.7,1648.9 L565.4,1653.5 L566.1,1658 L566.8,1662.6 L567.6,1667.1 L568.3,1671.7 L569,1676.2 L569.8,1680.8 L570.5,1685.3 L571.2,1689.8 L572,1694.4 L572.7,1698.9 L573.5,1703.3 L574.2,1707.8 L575,1712.3 L575.8,1716.7 L576.5,1721.1 L577.3,1725.5 L578.1,1729.8 L578.9,1734.2 L579.7,1738.5 L580.6,1742.7 L581.4,1747 L582.2,1751.2 L583.1,1755.4 L584,1759.5 L584.8,1763.6 L585.7,1767.6 L586.6,1771.7 L587.6,1775.6 L588.5,1779.6 L589.4,1783.4 L590.4,1787.3 L591.4,1791 L592.4,1794.8 L593.4,1798.4 L594.4,1802 L595.5,1805.6 L596.6,1809.1 L597.6,1812.5 L598.8,1815.9 L599.9,1819.2 L601,1822.5 L602.2,1825.6 L603.4,1828.7 L604.6,1831.8 L605.9,1834.7 L607.1,1837.6 L608.4,1840.4 L609.7,1843.2 L611.1,1845.8 L612.4,1848.4 L613.8,1850.9 L615.2,1853.3 L616.6,1855.7 L618.1,1858 L619.5,1860.2 L621,1862.3 L622.5,1864.4 L624.1,1866.4 L625.6,1868.4 L627.2,1870.2 L628.8,1872 L630.4,1873.8 L632,1875.5 L633.6,1877.1 L635.3,1878.7 L636.9,1880.2 L638.6,1881.6 L640.3,1883 L642,1884.3 L643.7,1885.6 L645.5,1886.8 L647.2,1888 L649,1889.1 L650.8,1890.1 L652.5,1891.1 L654.3,1892.1 L656.1,1893 L657.9,1893.9 L659.8,1894.7 L661.6,1895.5 L663.4,1896.2 L665.3,1896.9 L667.1,1897.5 L669,1898.1 L670.8,1898.7 L672.7,1899.2 L674.6,1899.7 L676.4,1900.1 L678.3,1900.5 L680.2,1900.9 L682.1,1901.3 L684,1901.6 L685.8,1901.9 L687.7,1902.1 L689.6,1902.3 L691.5,1902.5 L693.4,1902.7 L695.3,1902.8 L697.2,1902.9 L699.1,1903 L701,1903.1 L702.9,1903.1 L704.8,1903.2 L706.8,1903.2 L708.7,1903.2 L710.6,1903.1 L712.5,1903.1 L714.4,1903 L716.3,1903 L718.2,1902.9 L720.2,1902.8 L722.1,1902.7 L724,1902.6 L725.9,1902.5 L727.8,1902.3 L729.7,1902.2 L731.7,1902.1 L733.6,1901.9 L735.5,1901.8 L737.4,1901.7 L739.3,1901.5 L741.3,1901.4 L743.2,1901.3 L745.1,1901.1 L747,1901 L748.9,1900.9 L750.9,1900.8 L752.8,1900.7 L754.7,1900.6 L756.6,1900.5 L758.5,1900.4 L760.4,1900.4 L762.4,1900.3 L764.3,1900.2 L766.2,1900.2 L768.1,1900.2 L770,1900.1 L771.9,1900.1 L773.8,1900.1 L775.7,1900.1 L777.7,1900 L779.6,1900 L781.5,1900 L783.4,1900 L785.3,1900.1 L787.2,1900.1 L789.1,1900.1 L791,1900.1 L792.9,1900.1 L794.8,1900.2 L796.7,1900.2 L798.6,1900.2 L800.6,1900.3 L802.5,1900.3 L804.4,1900.4 L806.3,1900.4 L808.2,1900.4 L810.1,1900.5 L812,1900.5 L813.9,1900.6 L815.8,1900.6 L817.7,1900.7 L819.6,1900.7 L821.5,1900.8" fill="none" stroke="#0000FF" stroke-width="3.2" stroke-dasharray="4.5 19.5"/>
<path d="M182.7,1696.2 L184.4,1696.5 L186,1696.7 L187.7,1697 L189.3,1697.3 L191,1697.6 L192.7,1697.8 L194.3,1698.1 L196,1698.4 L197.6,1698.7 L199.3,1698.9 L200.9,1699.2 L202.6,1699.5 L204.3,1699.7 L205.9,1700 L207.6,1700.3 L209.2,1700.6 L210.9,1700.9 L212.6,1701.1 L214.2,1701.4 L215.9,1701.7 L217.5,1702 L219.2,1702.3 L220.8,1702.6 L222.5,1702.8 L224.2,1703.1 L225.8,1703.4 L227.5,1703.7 L229.1,1704 L230.8,1704.3 L232.4,1704.6 L234.1,1704.9 L235.8,1705.2 L237.4,1705.5 L239.1,1705.8 L240.7,1706.1 L242.4,1706.4 L244,1706.7 L245.7,1707 L247.3,1707.3 L249,1707.6 L250.7,1707.9 L252.3,1708.2 L254,1708.6 L255.6,1708.9 L257.3,1709.2 L258.9,1709.5 L260.6,1709.8 L262.2,1710.2 L263.9,1710.5 L265.5,1710.8 L267.2,1711.2 L268.8,1711.5 L270.5,1711.8 L272.1,1712.2 L273.8,1712.5 L275.4,1712.9 L277.1,1713.2 L278.8,1713.6 L280.4,1713.9 L282.1,1714.3 L283.7,1714.6 L285.4,1715 L287,1715.3 L288.7,1715.7 L290.3,1716 L292,1716.4 L293.6,1716.8 L295.3,1717.1 L296.9,1717.5 L298.6,1717.9 L300.2,1718.2 L301.9,1718.6 L303.5,1719 L305.2,1719.3 L306.8,1719.7 L308.5,1720.1 L310.1,1720.4 L311.8,1720.8 L313.4,1721.2 L315.1,1721.6 L316.7,1722 L318.3,1722.3 L320,1722.7 L321.6,1723.1 L323.3,1723.5 L324.9,1723.9 L326.6,1724.3 L328.2,1724.6 L329.9,1725 L331.5,1725.4 L333.2,1725.8 L334.8,1726.2 L336.5,1726.6 L338.1,1727 L339.8,1727.4 L341.4,1727.8 L343.1,1728.2 L344.7,1728.6 L346.4,1729 L348,1729.4 L349.7,1729.8 L351.3,1730.2 L353,1730.6 L354.6,1731.1 L356.3,1731.5 L357.9,1731.9 L359.5,1732.3 L361.2,1732.8 L362.8,1733.2 L364.5,1733.7 L366.1,1734.1 L367.7,1734.6 L369.4,1735 L371,1735.5 L372.7,1735.9 L374.3,1736.4 L375.9,1736.9 L377.6,1737.4 L379.2,1737.9 L380.8,1738.3 L382.5,1738.8 L384.1,1739.3 L385.7,1739.9 L387.4,1740.4 L389,1740.9 L390.6,1741.4 L392.2,1742 L393.9,1742.5 L395.5,1743 L397.1,1743.6 L398.7,1744.2 L400.3,1744.7 L401.9,1745.3 L403.6,1745.9 L405.2,1746.5 L406.8,1747 L408.4,1747.6 L410,1748.2 L411.6,1748.8 L413.2,1749.5 L414.8,1750.1 L416.5,1750.7 L418.1,1751.3 L419.7,1751.9 L421.3,1752.5 L422.9,1753.2 L424.5,1753.8 L426.1,1754.4 L427.7,1755.1 L429.3,1755.7 L430.9,1756.3 L432.5,1757 L434.1,1757.6 L435.8,1758.3 L437.4,1758.9 L439,1759.5 L440.6,1760.2 L442.2,1760.8 L443.8,1761.5 L445.4,1762.1 L447,1762.7 L448.6,1763.4 L450.3,1764 L451.9,1764.6 L453.5,1765.2 L455.1,1765.9 L456.7,1766.5 L458.4,1767.1 L460,1767.7 L461.6,1768.3 L463.2,1768.9 L464.8,1769.5 L466.5,1770.1 L468.1,1770.7 L469.7,1771.3 L471.4,1771.9 L473,1772.5 L474.6,1773.1 L476.3,1773.7 L477.9,1774.3 L479.5,1774.8 L481.2,1775.4 L482.8,1776 L484.5,1776.6 L486.1,1777.2 L487.7,1777.8 L489.3,1778.5 L491,1779.1 L492.6,1779.7 L494.2,1780.4 L495.8,1781 L497.4,1781.7 L499,1782.4 L500.7,1783.1 L502.3,1783.8 L503.9,1784.6 L505.4,1785.3 L507,1786.1 L508.6,1786.9 L510.2,1787.7 L511.8,1788.5 L513.3,1789.4 L514.9,1790.3 L516.4,1791.2 L518,1792.1 L519.5,1793.1 L521,1794.1 L522.6,1795.1 L524.1,1796.1 L525.6,1797.2 L527.1,1798.3 L528.5,1799.5 L530,1800.6 L531.5,1801.8 L532.9,1803.1 L534.4,1804.4 L535.8,1805.7 L537.2,1807 L538.6,1808.4 L540,1809.9 L541.4,1811.4 L542.8,1812.9 L544.2,1814.4 L545.5,1816 L546.9,1817.6 L548.2,1819.2 L549.6,1820.9 L550.9,1822.5 L552.2,1824.2 L553.5,1826 L554.9,1827.7 L556.2,1829.5 L557.5,1831.2 L558.8,1833 L560.1,1834.8 L561.3,1836.6 L562.6,1838.5 L563.9,1840.3 L565.2,1842.1 L566.5,1843.9 L567.8,1845.8 L569,1847.6 L570.3,1849.4 L571.6,1851.2 L572.9,1853 L574.2,1854.8 L575.4,1856.6 L576.7,1858.4 L578,1860.2 L579.3,1861.9 L580.6,1863.7 L581.9,1865.4 L583.2,1867.1 L584.5,1868.7 L585.9,1870.4 L587.2,1872 L588.5,1873.6 L589.9,1875.1 L591.2,1876.7 L592.6,1878.2 L593.9,1879.6 L595.3,1881 L596.7,1882.4 L598.1,1883.8 L599.5,1885 L600.9,1886.3 L602.3,1887.5 L603.7,1888.7 L605.2,1889.8 L606.7,1890.8 L608.1,1891.8 L609.6,1892.7 L611.1,1893.6 L612.6,1894.5 L614.2,1895.3 L615.7,1896 L617.3,1896.7 L618.8,1897.3 L620.4,1897.9 L622,1898.4 L623.6,1898.9 L625.2,1899.4 L626.8,1899.8 L628.5,1900.2 L630.1,1900.5 L631.7,1900.8 L633.4,1901.1 L635.1,1901.3 L636.7,1901.5 L638.4,1901.7 L640.1,1901.8 L641.8,1902 L643.5,1902.1 L645.2,1902.1 L646.9,1902.2 L648.6,1902.2 L650.3,1902.2 L652,1902.2 L653.7,1902.2 L655.5,1902.1 L657.2,1902.1 L658.9,1902 L660.6,1901.9 L662.4,1901.8 L664.1,1901.7 L665.8,1901.6 L667.5,1901.5 L669.3,1901.4 L671,1901.3 L672.7,1901.2 L674.4,1901.1 L676.2,1901 L677.9,1900.9 L679.6,1900.8 L681.3,1900.7 L683,1900.6 L684.7,1900.6 L686.4,1900.5 L688.1,1900.4 L689.8,1900.4 L691.5,1900.3 L693.2,1900.3 L694.9,1900.2 L696.6,1900.2 L698.3,1900.2 L699.9,1900.2 L701.6,1900.2 L703.3,1900.1 L705,1900.1 L706.6,1900.1 L708.3,1900.1 L710,1900.1 L711.6,1900.1 L713.3,1900.2 L715,1900.2 L716.6,1900.2 L718.3,1900.2 L719.9,1900.2 L721.6,1900.3 L723.3,1900.3 L724.9,1900.3 L726.6,1900.3 L728.2,1900.4 L729.9,1900.4 L731.5,1900.4 L733.2,1900.5 L734.8,1900.5 L736.5,1900.5 L738.2,1900.6 L739.8,1900.6 L741.5,1900.6 L743.1,1900.7 L744.8,1900.7 L746.4,1900.7 L748.1,1900.8 L749.7,1900.8 L751.4,1900.8 L753,1900.8 L754.7,1900.9 L756.4,1900.9 L758,1900.9 L759.7,1900.9 L761.3,1900.9 L763,1900.9 L764.7,1901 L766.3,1901 L768,1901 L769.7,1901 L771.3,1901 L773,1901 L774.7,1901 L776.3,1901 L778,1901 L779.7,1901 L781.3,1901 L783,1901 L784.7,1901 L786.4,1901 L788,1901 L789.7,1901 L791.4,1901 L793,1901 L794.7,1901 L796.4,1901 L798.1,1901 L799.7,1901 L801.4,1900.9 L803.1,1900.9 L804.8,1900.9 L806.4,1900.9 L808.1,1900.9 L809.8,1900.9 L811.5,1900.9 L813.1,1900.9 L814.8,1900.9 L816.5,1900.8 L818.2,1900.8 L819.8,1900.8 L821.5,1900.8" fill="none" stroke="#FF0000" stroke-width="3.2" stroke-dasharray="4.5 19.5"/>
<path d="M182.7,1882.5 C184.3,1882.2 189,1882.7 192.2,1880.7 C195.3,1878.6 198.9,1875.1 201.6,1870.2 C204.4,1865.3 206.6,1858.6 208.7,1851.2 C210.9,1843.8 212.9,1835 214.6,1825.5 C216.4,1816 218,1804.5 219.4,1794.2 C220.8,1783.9 221.7,1773.6 222.9,1763.8 C224.1,1754 225.2,1744.3 226.5,1735.3 C227.7,1726.3 228.6,1718.8 230.5,1709.6 C232.4,1700.5 234.8,1689.7 238.1,1680.2 C241.3,1670.7 245.4,1660.7 249.9,1652.7 C254.4,1644.6 258.7,1639 265,1631.8 C271.3,1624.5 279.4,1616.5 287.8,1609 C296.1,1601.4 305.5,1594.1 315.2,1586.2 C324.9,1578.2 336.9,1568.9 346,1561.5 C355,1554 362.1,1547.7 369.6,1541.5 C377.1,1535.3 384.2,1529.3 390.9,1524.4 C397.6,1519.5 404.3,1515.4 409.8,1512 C415.4,1508.7 417.7,1507.3 424,1504.4 C430.3,1501.6 440.2,1498.3 447.7,1495 C455.2,1491.6 463.3,1487.8 469,1484.5 C474.6,1481.2 477.6,1478.8 481.5,1475 C485.5,1471.2 488.4,1467.6 492.6,1461.7 C496.9,1455.8 501.7,1447.3 506.8,1439.8 C512,1432.4 518.3,1423.2 523.4,1417 C528.5,1410.9 532.9,1407.1 537.6,1402.8 C542.3,1398.5 547.7,1394.6 551.8,1391.4 C555.9,1388.2 558.7,1386.3 562.2,1383.8 C565.8,1381.3 567.7,1379.4 573.1,1376.2 C578.5,1373 586.9,1368 594.4,1364.8 C601.9,1361.6 607.8,1360 618,1357.2 C628.3,1354.4 643.3,1349.9 655.9,1347.7 C668.5,1345.5 681.1,1345.2 693.8,1343.9 C706.4,1342.6 717,1341.2 731.6,1340.1 C746.2,1339 765.5,1338.5 781.3,1337.2 C797.1,1336 818.8,1333.3 826.3,1332.5" fill="none" stroke="#424242" stroke-width="10.5" stroke-linejoin="round" stroke-linecap="round"/>
<path d="M182.7,1895.8 C185.6,1893 195.2,1887 200.2,1878.8 C205.2,1870.5 209.4,1858.5 212.7,1846.4 C216.1,1834.4 218.2,1820 220.3,1806.5 C222.4,1793.1 223.6,1776.6 225.3,1765.7 C227,1754.8 228.8,1748.4 230.5,1741 C232.2,1733.6 233,1728.2 235.5,1721 C237.9,1713.9 241.2,1705.8 245.4,1698.2 C249.6,1690.7 254.7,1682.6 260.5,1675.4 C266.4,1668.3 273.1,1662.2 280.7,1655.5 C288.2,1648.8 297.4,1641.7 305.7,1635.5 C314.1,1629.4 320.3,1624.3 330.8,1618.4 C341.3,1612.6 356.1,1605.9 368.7,1600.4 C381.2,1594.9 391.7,1590.1 406.3,1585.2 C420.9,1580.3 441.8,1575.5 456.4,1570.9 C471.1,1566.4 481.9,1561.9 494.3,1557.7 C506.7,1553.4 516.5,1550 531,1545.3 C545.5,1540.5 564.6,1533.6 581.4,1529.2 C598.1,1524.7 619,1521.7 631.5,1518.7 C644.1,1515.7 648.6,1515.1 656.6,1511.1 C664.6,1507.1 672.8,1495.7 679.3,1495 C685.8,1494.2 691,1507.8 695.6,1506.3 C700.3,1504.9 703.9,1494.8 707,1486.4 C710.1,1478 711.9,1466.5 714.3,1456 C716.8,1445.5 719,1433.7 721.9,1423.7 C724.9,1413.7 728.3,1405.3 732.1,1396.1 C735.9,1387 738.4,1376.5 744.6,1368.6 C750.9,1360.7 761.3,1354 769.7,1348.6 C778.1,1343.3 785.8,1339.3 794.8,1336.3 C803.8,1333.3 818.8,1331.5 823.6,1330.6" fill="none" stroke="#4200C8" stroke-width="10.5" stroke-linejoin="round" stroke-linecap="round"/>
<circle cx="182.7" cy="1338.4" r="13.5" fill="#0000FF"/><circle cx="253.7" cy="1353.7" r="13.5" fill="#0000FF"/><circle cx="324.7" cy="1360" r="13.5" fill="#0000FF"/><circle cx="395.6" cy="1379.7" r="13.5" fill="#0000FF"/><circle cx="466.6" cy="1401.8" r="13.5" fill="#0000FF"/><circle cx="537.6" cy="1511.4" r="13.5" fill="#0000FF"/><circle cx="608.6" cy="1840.8" r="13.5" fill="#0000FF"/><circle cx="679.6" cy="1900.8" r="13.5" fill="#0000FF"/><circle cx="750.5" cy="1900.8" r="13.5" fill="#0000FF"/><circle cx="821.5" cy="1900.8" r="13.5" fill="#0000FF"/>
<circle cx="182.7" cy="1696.2" r="13.5" fill="#FF0000"/><circle cx="253.7" cy="1708.5" r="13.5" fill="#FF0000"/><circle cx="324.7" cy="1723.8" r="13.5" fill="#FF0000"/><circle cx="395.6" cy="1743.1" r="13.5" fill="#FF0000"/><circle cx="466.6" cy="1770.2" r="13.5" fill="#FF0000"/><circle cx="537.6" cy="1807.4" r="13.5" fill="#FF0000"/><circle cx="608.6" cy="1892.1" r="13.5" fill="#FF0000"/><circle cx="679.6" cy="1900.8" r="13.5" fill="#FF0000"/><circle cx="750.5" cy="1900.8" r="13.5" fill="#FF0000"/><circle cx="821.5" cy="1900.8" r="13.5" fill="#FF0000"/>
<line x1="199.7" y1="1333.4" x2="239.9" y2="1333.4" stroke="#000" stroke-width="3.5"/><path d="M235.9,1328.4 L247.9,1333.4 L235.9,1338.4 Z" fill="#000"/>
<line x1="205.2" y1="1690.5" x2="242.3" y2="1690.5" stroke="#000" stroke-width="3.5"/><path d="M238.3,1685.5 L250.3,1690.5 L238.3,1695.5 Z" fill="#000"/>
<polygon points="603,1628 608.5,1622.5 693.5,1622.5 695,1624 695,1632 693.5,1633.5 608.5,1633.5" fill="#424242"/>
<polygon points="603,1674.5 608.5,1669 693.5,1669 695,1670.5 695,1678.5 693.5,1680 608.5,1680" fill="#4200C8"/>
<circle cx="650.3" cy="1726.2" r="13" fill="#0000FF"/>
<circle cx="650.3" cy="1771.8" r="13" fill="#FF0000"/>
<text x="700" y="1639" font-size="30.5" text-anchor="start" fill="#000" letter-spacing="3">Blank</text>
<text y="1683" font-size="30.5" letter-spacing="2"><tspan x="700">Pt</tspan><tspan x="735.5" y="1694.5" font-size="16" letter-spacing="3.5">75</tspan><tspan x="757" y="1683" letter-spacing="3">-Pd</tspan><tspan x="813.5" y="1694.5" font-size="16" letter-spacing="3.5">25</tspan></text>
<text x="700" y="1738.4" font-size="30.5" text-anchor="start" fill="#000" letter-spacing="2">Pt conc.</text>
<text x="700" y="1782.4" font-size="30.5" text-anchor="start" fill="#000" letter-spacing="2">Pd conc.</text>
<path d="M148,1222.3 H856 V1933.6 H148" fill="none" stroke="#000" stroke-width="8" stroke-linecap="square"/>
<line x1="148" y1="1222.3" x2="148" y2="1933.6" stroke="#4200C8" stroke-width="8" stroke-linecap="square"/>
<path d="M182.7,1936.6 V1952.6 M301,1936.6 V1952.6 M419.3,1936.6 V1952.6 M537.6,1936.6 V1952.6 M655.9,1936.6 V1952.6 M774.2,1936.6 V1952.6 M241.8,1936.6 V1944.1 M360.1,1936.6 V1944.1 M478.4,1936.6 V1944.1 M596.8,1936.6 V1944.1 M715,1936.6 V1944.1 M833.3,1936.6 V1944.1 M182.7,1225.3 V1246.3 M222.2,1225.3 V1234.8 M261.8,1225.3 V1234.8 M301.3,1225.3 V1234.8 M340.9,1225.3 V1234.8 M380.4,1225.3 V1246.3 M420,1225.3 V1234.8 M459.5,1225.3 V1234.8 M499,1225.3 V1234.8 M538.6,1225.3 V1234.8 M578.1,1225.3 V1246.3 M617.7,1225.3 V1234.8 M657.2,1225.3 V1234.8 M696.8,1225.3 V1234.8 M736.3,1225.3 V1234.8 M775.8,1225.3 V1246.3 M815.4,1225.3 V1234.8 M854.9,1225.3 V1234.8 M859,1902.4 H875 M859,1845.7 H866.5 M859,1789.1 H875 M859,1732.4 H866.5 M859,1675.7 H875 M859,1619 H866.5 M859,1562.4 H875 M859,1505.7 H866.5 M859,1449 H875 M859,1392.3 H866.5 M859,1335.7 H875 M859,1279 H866.5 M859,1222.3 H875" stroke="#000" stroke-width="7.5" fill="none"/>
<path d="M145,1222.3 H132 M145,1269.8 H140 M145,1317.3 H132 M145,1364.8 H140 M145,1412.3 H132 M145,1459.8 H140 M145,1507.3 H132 M145,1554.8 H140 M145,1602.3 H132 M145,1649.8 H140 M145,1697.3 H132 M145,1744.8 H140 M145,1792.3 H132 M145,1839.8 H140 M145,1887.3 H132 M145,1934.8 H140" stroke="#4200C8" stroke-width="7.5" fill="none"/>
<text transform="translate(182.7,1999.6) scale(0.940,1)" font-size="50.5" text-anchor="middle">0</text>
<text transform="translate(301,1999.6) scale(0.940,1)" font-size="50.5" text-anchor="middle">5</text>
<text transform="translate(419.3,1999.6) scale(0.940,1)" font-size="50.5" text-anchor="middle">10</text>
<text transform="translate(537.6,1999.6) scale(0.940,1)" font-size="50.5" text-anchor="middle">15</text>
<text transform="translate(655.9,1999.6) scale(0.940,1)" font-size="50.5" text-anchor="middle">20</text>
<text transform="translate(774.2,1999.6) scale(0.940,1)" font-size="50.5" text-anchor="middle">25</text>
<text transform="translate(182.7,1195.3) scale(0.940,1)" font-size="50.5" text-anchor="middle">0</text>
<text transform="translate(380.4,1195.3) scale(0.940,1)" font-size="50.5" text-anchor="middle">1500</text>
<text transform="translate(578.1,1195.3) scale(0.940,1)" font-size="50.5" text-anchor="middle">3000</text>
<text transform="translate(775.8,1195.3) scale(0.940,1)" font-size="50.5" text-anchor="middle">4500</text>
<text transform="translate(119.5,1900.8) scale(0.940,1)" font-size="50.5" text-anchor="end">3</text>
<text transform="translate(119.5,1805.8) scale(0.940,1)" font-size="50.5" text-anchor="end">4</text>
<text transform="translate(119.5,1710.8) scale(0.940,1)" font-size="50.5" text-anchor="end">5</text>
<text transform="translate(119.5,1615.8) scale(0.940,1)" font-size="50.5" text-anchor="end">6</text>
<text transform="translate(119.5,1520.8) scale(0.940,1)" font-size="50.5" text-anchor="end">7</text>
<text transform="translate(119.5,1425.8) scale(0.940,1)" font-size="50.5" text-anchor="end">8</text>
<text transform="translate(119.5,1330.8) scale(0.940,1)" font-size="50.5" text-anchor="end">9</text>
<text transform="translate(119.5,1235.8) scale(0.940,1)" font-size="50.5" text-anchor="end">10</text>
<text transform="translate(885.5,1913.9) scale(0.940,1)" font-size="50.5" text-anchor="start">0.0</text>
<text transform="translate(885.5,1800.6) scale(0.940,1)" font-size="50.5" text-anchor="start">0.5</text>
<text transform="translate(885.5,1687.2) scale(0.940,1)" font-size="50.5" text-anchor="start">1.0</text>
<text transform="translate(885.5,1573.9) scale(0.940,1)" font-size="50.5" text-anchor="start">1.5</text>
<text transform="translate(885.5,1460.5) scale(0.940,1)" font-size="50.5" text-anchor="start">2.0</text>
<text transform="translate(885.5,1347.2) scale(0.940,1)" font-size="50.5" text-anchor="start">2.5</text>
<text transform="translate(885.5,1233.8) scale(0.940,1)" font-size="50.5" text-anchor="start">3.0</text>
<text transform="translate(499.5,2055.1) scale(0.952,1)" font-size="50.4" text-anchor="middle">time (min)</text>
<text transform="translate(185,1135.3) scale(0.975,1)" font-size="49.5" text-anchor="start">Volume charge density (C L<tspan font-size="29" dy="-23">-1</tspan><tspan dy="23" dx="3">)</tspan></text>
<text transform="translate(71,1538.6) rotate(-90)" font-size="50" text-anchor="middle">pH</text>
<text transform="translate(967,1548.3) rotate(90)" font-size="50" text-anchor="middle">Concentration (mM)</text>
<text transform="translate(54,1157.3) scale(0.890,1)" font-size="87" text-anchor="start">c<tspan font-size="82" dx="4">)</tspan></text>
<path d="M1289,1329.1 L1290.9,1329 L1292.9,1328.9 L1294.8,1328.9 L1296.8,1328.8 L1298.7,1328.7 L1300.6,1328.6 L1302.6,1328.6 L1304.5,1328.5 L1306.5,1328.4 L1308.4,1328.4 L1310.3,1328.3 L1312.3,1328.3 L1314.2,1328.3 L1316.1,1328.2 L1318.1,1328.2 L1320,1328.2 L1321.9,1328.2 L1323.9,1328.2 L1325.8,1328.3 L1327.7,1328.3 L1329.7,1328.4 L1331.6,1328.4 L1333.5,1328.5 L1335.5,1328.6 L1337.4,1328.7 L1339.3,1328.9 L1341.2,1329 L1343.1,1329.2 L1345.1,1329.4 L1347,1329.6 L1348.9,1329.8 L1350.8,1330.1 L1352.7,1330.3 L1354.6,1330.6 L1356.5,1330.9 L1358.4,1331.3 L1360.3,1331.6 L1362.2,1332 L1364.1,1332.4 L1366,1332.8 L1367.9,1333.3 L1369.8,1333.8 L1371.7,1334.2 L1373.6,1334.8 L1375.5,1335.3 L1377.4,1335.8 L1379.3,1336.4 L1381.2,1337 L1383,1337.6 L1384.9,1338.2 L1386.8,1338.8 L1388.7,1339.5 L1390.5,1340.1 L1392.4,1340.8 L1394.3,1341.5 L1396.2,1342.1 L1398,1342.8 L1399.9,1343.5 L1401.8,1344.2 L1403.7,1345 L1405.5,1345.7 L1407.4,1346.4 L1409.3,1347.1 L1411.1,1347.9 L1413,1348.6 L1414.9,1349.4 L1416.7,1350.1 L1418.6,1350.8 L1420.5,1351.6 L1422.3,1352.3 L1424.2,1353 L1426,1353.8 L1427.9,1354.5 L1429.8,1355.2 L1431.6,1355.9 L1433.5,1356.6 L1435.4,1357.3 L1437.2,1358 L1439.1,1358.7 L1441,1359.4 L1442.8,1360.1 L1444.7,1360.8 L1446.6,1361.4 L1448.4,1362.1 L1450.3,1362.8 L1452.2,1363.4 L1454,1364.1 L1455.9,1364.7 L1457.8,1365.3 L1459.6,1366 L1461.5,1366.6 L1463.4,1367.2 L1465.3,1367.8 L1467.1,1368.4 L1469,1369 L1470.9,1369.6 L1472.8,1370.2 L1474.7,1370.8 L1476.5,1371.4 L1478.4,1372 L1480.3,1372.6 L1482.2,1373.2 L1484.1,1373.7 L1486,1374.3 L1487.9,1374.9 L1489.8,1375.4 L1491.7,1376 L1493.6,1376.5 L1495.5,1377.1 L1497.4,1377.6 L1499.3,1378.2 L1501.2,1378.7 L1503.1,1379.3 L1505,1379.8 L1506.9,1380.3 L1508.8,1380.9 L1510.8,1381.4 L1512.7,1382 L1514.6,1382.5 L1516.5,1383.1 L1518.4,1383.6 L1520.4,1384.2 L1522.3,1384.8 L1524.2,1385.3 L1526.1,1385.9 L1528,1386.5 L1529.9,1387.2 L1531.8,1387.8 L1533.7,1388.5 L1535.6,1389.1 L1537.5,1389.8 L1539.3,1390.5 L1541.2,1391.3 L1543.1,1392 L1544.9,1392.8 L1546.8,1393.6 L1548.6,1394.5 L1550.5,1395.3 L1552.3,1396.2 L1554.1,1397.2 L1555.9,1398.1 L1557.7,1399.1 L1559.5,1400.2 L1561.3,1401.2 L1563,1402.3 L1564.8,1403.5 L1566.5,1404.7 L1568.2,1405.9 L1569.9,1407.2 L1571.6,1408.5 L1573.3,1409.8 L1575,1411.2 L1576.6,1412.7 L1578.3,1414.2 L1579.9,1415.7 L1581.5,1417.3 L1583.1,1418.9 L1584.6,1420.6 L1586.2,1422.4 L1587.7,1424.1 L1589.3,1425.9 L1590.8,1427.8 L1592.3,1429.7 L1593.8,1431.7 L1595.3,1433.6 L1596.7,1435.7 L1598.2,1437.8 L1599.6,1439.9 L1601,1442 L1602.4,1444.2 L1603.8,1446.5 L1605.2,1448.7 L1606.6,1451.1 L1608,1453.4 L1609.3,1455.8 L1610.6,1458.2 L1612,1460.7 L1613.3,1463.2 L1614.6,1465.8 L1615.9,1468.4 L1617.1,1471 L1618.4,1473.7 L1619.7,1476.3 L1620.9,1479.1 L1622.1,1481.8 L1623.4,1484.6 L1624.6,1487.5 L1625.8,1490.4 L1626.9,1493.3 L1628.1,1496.2 L1629.3,1499.2 L1630.5,1502.2 L1631.6,1505.2 L1632.7,1508.3 L1633.9,1511.4 L1635,1514.5 L1636.1,1517.7 L1637.2,1520.8 L1638.3,1524.1 L1639.4,1527.3 L1640.4,1530.6 L1641.5,1533.9 L1642.6,1537.2 L1643.6,1540.6 L1644.6,1544 L1645.7,1547.4 L1646.7,1550.9 L1647.7,1554.3 L1648.7,1557.8 L1649.7,1561.4 L1650.7,1564.9 L1651.7,1568.5 L1652.7,1572.1 L1653.7,1575.7 L1654.6,1579.3 L1655.6,1583 L1656.5,1586.6 L1657.5,1590.3 L1658.4,1594 L1659.4,1597.7 L1660.3,1601.5 L1661.3,1605.2 L1662.2,1608.9 L1663.1,1612.7 L1664.1,1616.5 L1665,1620.3 L1665.9,1624.1 L1666.8,1627.9 L1667.7,1631.7 L1668.7,1635.5 L1669.6,1639.3 L1670.5,1643.2 L1671.4,1647 L1672.3,1650.8 L1673.2,1654.7 L1674.2,1658.5 L1675.1,1662.3 L1676,1666.2 L1676.9,1670 L1677.8,1673.8 L1678.8,1677.6 L1679.7,1681.5 L1680.6,1685.3 L1681.6,1689.1 L1682.5,1692.9 L1683.4,1696.7 L1684.4,1700.5 L1685.3,1704.2 L1686.3,1708 L1687.2,1711.8 L1688.2,1715.5 L1689.1,1719.2 L1690.1,1722.9 L1691.1,1726.6 L1692.1,1730.3 L1693.1,1734 L1694,1737.6 L1695,1741.2 L1696.1,1744.9 L1697.1,1748.4 L1698.1,1752 L1699.1,1755.5 L1700.2,1759.1 L1701.2,1762.5 L1702.3,1766 L1703.3,1769.5 L1704.4,1772.9 L1705.5,1776.3 L1706.6,1779.6 L1707.7,1782.9 L1708.8,1786.2 L1710,1789.5 L1711.1,1792.7 L1712.3,1795.9 L1713.4,1799.1 L1714.6,1802.2 L1715.8,1805.3 L1717,1808.4 L1718.2,1811.4 L1719.4,1814.4 L1720.7,1817.3 L1721.9,1820.2 L1723.2,1823.1 L1724.5,1825.9 L1725.8,1828.7 L1727.1,1831.4 L1728.4,1834.1 L1729.7,1836.8 L1731.1,1839.4 L1732.4,1841.9 L1733.8,1844.5 L1735.2,1846.9 L1736.6,1849.4 L1738,1851.8 L1739.4,1854.1 L1740.8,1856.4 L1742.3,1858.6 L1743.7,1860.8 L1745.2,1863 L1746.7,1865.1 L1748.2,1867.1 L1749.7,1869.2 L1751.2,1871.1 L1752.7,1873 L1754.3,1874.9 L1755.8,1876.7 L1757.4,1878.4 L1759,1880.1 L1760.6,1881.7 L1762.2,1883.3 L1763.8,1884.8 L1765.5,1886.3 L1767.1,1887.7 L1768.8,1889.1 L1770.4,1890.4 L1772.1,1891.7 L1773.8,1892.9 L1775.5,1894 L1777.2,1895.1 L1779,1896.1 L1780.7,1897 L1782.5,1897.9 L1784.2,1898.8 L1786,1899.5 L1787.8,1900.2 L1789.6,1900.9 L1791.4,1901.5 L1793.3,1902 L1795.1,1902.5 L1796.9,1902.9 L1798.8,1903.3 L1800.7,1903.6 L1802.5,1903.9 L1804.4,1904.1 L1806.3,1904.3 L1808.2,1904.4 L1810.1,1904.5 L1812.1,1904.6 L1814,1904.6 L1815.9,1904.6 L1817.8,1904.5 L1819.8,1904.5 L1821.7,1904.4 L1823.7,1904.2 L1825.6,1904.1 L1827.6,1903.9 L1829.6,1903.8 L1831.5,1903.6 L1833.5,1903.4 L1835.5,1903.1 L1837.4,1902.9 L1839.4,1902.7 L1841.4,1902.4 L1843.4,1902.2 L1845.3,1901.9 L1847.3,1901.7 L1849.3,1901.4 L1851.3,1901.2 L1853.2,1900.9 L1855.2,1900.7 L1857.2,1900.5 L1859.2,1900.3 L1861.1,1900.1 L1863.1,1900 L1865,1899.8 L1867,1899.7 L1869,1899.5 L1870.9,1899.4 L1872.8,1899.3 L1874.8,1899.2 L1876.7,1899.2 L1878.7,1899.1 L1880.6,1899 L1882.6,1899 L1884.5,1899 L1886.4,1898.9 L1888.4,1898.9 L1890.3,1898.9 L1892.2,1898.9 L1894.1,1899 L1896.1,1899 L1898,1899 L1899.9,1899 L1901.8,1899.1 L1903.7,1899.1 L1905.7,1899.2 L1907.6,1899.3 L1909.5,1899.3 L1911.4,1899.4 L1913.3,1899.5 L1915.2,1899.6 L1917.1,1899.7 L1919.1,1899.7 L1921,1899.8 L1922.9,1899.9 L1924.8,1900 L1926.7,1900.1 L1928.6,1900.2 L1930.5,1900.3" fill="none" stroke="#0000FF" stroke-width="3.2" stroke-dasharray="4.5 19.5"/>
<path d="M1289,1269.7 L1290.9,1270.2 L1292.9,1270.6 L1294.8,1271.1 L1296.8,1271.5 L1298.7,1272 L1300.6,1272.5 L1302.6,1273 L1304.5,1273.4 L1306.4,1273.9 L1308.4,1274.4 L1310.3,1274.9 L1312.2,1275.5 L1314.1,1276 L1316,1276.5 L1318,1277.1 L1319.9,1277.6 L1321.8,1278.2 L1323.7,1278.8 L1325.6,1279.4 L1327.5,1280 L1329.4,1280.7 L1331.3,1281.3 L1333.2,1282 L1335,1282.7 L1336.9,1283.4 L1338.8,1284.1 L1340.7,1284.9 L1342.5,1285.7 L1344.4,1286.5 L1346.2,1287.3 L1348.1,1288.2 L1349.9,1289.1 L1351.7,1290 L1353.5,1290.9 L1355.4,1291.9 L1357.2,1292.9 L1359,1293.9 L1360.7,1295 L1362.5,1296.1 L1364.3,1297.2 L1366.1,1298.4 L1367.8,1299.5 L1369.6,1300.8 L1371.3,1302 L1373.1,1303.3 L1374.8,1304.5 L1376.5,1305.9 L1378.3,1307.2 L1380,1308.6 L1381.7,1309.9 L1383.4,1311.3 L1385.1,1312.8 L1386.8,1314.2 L1388.5,1315.7 L1390.2,1317.1 L1391.9,1318.6 L1393.5,1320.1 L1395.2,1321.6 L1396.9,1323.1 L1398.6,1324.7 L1400.2,1326.2 L1401.9,1327.8 L1403.6,1329.3 L1405.2,1330.9 L1406.9,1332.5 L1408.6,1334.1 L1410.2,1335.7 L1411.9,1337.2 L1413.5,1338.8 L1415.2,1340.4 L1416.9,1342 L1418.5,1343.6 L1420.2,1345.2 L1421.9,1346.8 L1423.5,1348.4 L1425.2,1349.9 L1426.8,1351.5 L1428.5,1353.1 L1430.2,1354.6 L1431.9,1356.2 L1433.5,1357.7 L1435.2,1359.2 L1436.9,1360.7 L1438.6,1362.3 L1440.2,1363.8 L1441.9,1365.2 L1443.6,1366.7 L1445.3,1368.2 L1447,1369.7 L1448.7,1371.1 L1450.4,1372.6 L1452.1,1374 L1453.8,1375.5 L1455.5,1376.9 L1457.2,1378.3 L1458.9,1379.7 L1460.6,1381.2 L1462.3,1382.6 L1464,1384 L1465.7,1385.4 L1467.4,1386.8 L1469.1,1388.2 L1470.9,1389.5 L1472.6,1390.9 L1474.3,1392.3 L1476,1393.7 L1477.7,1395.1 L1479.4,1396.4 L1481.1,1397.8 L1482.9,1399.2 L1484.6,1400.5 L1486.3,1401.9 L1488,1403.3 L1489.7,1404.6 L1491.5,1406 L1493.2,1407.4 L1494.9,1408.7 L1496.6,1410.1 L1498.4,1411.4 L1500.1,1412.8 L1501.8,1414.2 L1503.5,1415.5 L1505.2,1416.9 L1507,1418.3 L1508.7,1419.6 L1510.4,1421 L1512.1,1422.4 L1513.8,1423.8 L1515.6,1425.2 L1517.3,1426.5 L1519,1427.9 L1520.7,1429.3 L1522.4,1430.7 L1524.1,1432.1 L1525.9,1433.5 L1527.6,1434.9 L1529.3,1436.3 L1531,1437.7 L1532.7,1439.1 L1534.4,1440.5 L1536.1,1442 L1537.8,1443.4 L1539.5,1444.8 L1541.2,1446.3 L1542.9,1447.7 L1544.6,1449.2 L1546.3,1450.6 L1548,1452.1 L1549.7,1453.5 L1551.4,1455 L1553.1,1456.5 L1554.8,1458 L1556.4,1459.4 L1558.1,1460.9 L1559.8,1462.4 L1561.5,1464 L1563.1,1465.5 L1564.8,1467 L1566.5,1468.5 L1568.1,1470.1 L1569.8,1471.6 L1571.4,1473.2 L1573.1,1474.7 L1574.7,1476.3 L1576.4,1477.9 L1578,1479.5 L1579.7,1481.1 L1581.3,1482.7 L1582.9,1484.3 L1584.6,1485.9 L1586.2,1487.6 L1587.8,1489.3 L1589.4,1490.9 L1591,1492.6 L1592.6,1494.4 L1594.2,1496.1 L1595.8,1497.9 L1597.3,1499.6 L1598.9,1501.4 L1600.5,1503.3 L1602,1505.1 L1603.5,1507 L1605.1,1508.9 L1606.6,1510.8 L1608.1,1512.8 L1609.6,1514.8 L1611.1,1516.8 L1612.6,1518.9 L1614.1,1521 L1615.5,1523.1 L1617,1525.2 L1618.4,1527.4 L1619.8,1529.7 L1621.3,1531.9 L1622.7,1534.2 L1624.1,1536.6 L1625.4,1539 L1626.8,1541.4 L1628.1,1543.8 L1629.5,1546.4 L1630.8,1548.9 L1632.1,1551.5 L1633.4,1554.2 L1634.7,1556.9 L1635.9,1559.6 L1637.2,1562.4 L1638.4,1565.3 L1639.6,1568.2 L1640.8,1571.1 L1642,1574.1 L1643.2,1577.2 L1644.3,1580.3 L1645.5,1583.5 L1646.6,1586.7 L1647.7,1590 L1648.7,1593.3 L1649.8,1596.7 L1650.8,1600.1 L1651.9,1603.6 L1652.9,1607.2 L1653.9,1610.7 L1654.9,1614.4 L1655.9,1618 L1656.8,1621.7 L1657.8,1625.5 L1658.7,1629.3 L1659.7,1633.1 L1660.6,1636.9 L1661.5,1640.8 L1662.4,1644.7 L1663.3,1648.6 L1664.2,1652.5 L1665.1,1656.5 L1665.9,1660.5 L1666.8,1664.5 L1667.7,1668.5 L1668.6,1672.6 L1669.4,1676.6 L1670.3,1680.7 L1671.1,1684.8 L1672,1688.9 L1672.8,1692.9 L1673.7,1697 L1674.5,1701.1 L1675.4,1705.2 L1676.2,1709.3 L1677.1,1713.4 L1678,1717.5 L1678.8,1721.6 L1679.7,1725.6 L1680.6,1729.7 L1681.4,1733.7 L1682.3,1737.7 L1683.2,1741.8 L1684.1,1745.7 L1685,1749.7 L1685.9,1753.7 L1686.8,1757.6 L1687.8,1761.5 L1688.7,1765.4 L1689.6,1769.2 L1690.6,1773 L1691.6,1776.8 L1692.6,1780.5 L1693.6,1784.2 L1694.6,1787.9 L1695.6,1791.5 L1696.6,1795.1 L1697.7,1798.6 L1698.7,1802.1 L1699.8,1805.6 L1700.9,1809 L1702.1,1812.3 L1703.2,1815.6 L1704.3,1818.8 L1705.5,1822 L1706.7,1825.1 L1707.9,1828.2 L1709.2,1831.2 L1710.4,1834.1 L1711.7,1836.9 L1713,1839.7 L1714.4,1842.4 L1715.7,1845.1 L1717.1,1847.7 L1718.5,1850.2 L1719.9,1852.6 L1721.4,1854.9 L1722.9,1857.2 L1724.4,1859.4 L1725.9,1861.5 L1727.4,1863.6 L1729,1865.6 L1730.6,1867.5 L1732.2,1869.4 L1733.8,1871.2 L1735.4,1872.9 L1737.1,1874.6 L1738.8,1876.2 L1740.5,1877.8 L1742.2,1879.3 L1743.9,1880.7 L1745.7,1882.1 L1747.4,1883.4 L1749.2,1884.7 L1751,1885.9 L1752.8,1887.1 L1754.6,1888.2 L1756.4,1889.2 L1758.2,1890.2 L1760.1,1891.2 L1761.9,1892.1 L1763.8,1893 L1765.7,1893.8 L1767.5,1894.6 L1769.4,1895.3 L1771.3,1896 L1773.2,1896.6 L1775.1,1897.2 L1777,1897.8 L1778.9,1898.3 L1780.9,1898.8 L1782.8,1899.3 L1784.7,1899.7 L1786.6,1900.1 L1788.6,1900.4 L1790.5,1900.7 L1792.4,1901 L1794.4,1901.3 L1796.3,1901.5 L1798.2,1901.7 L1800.2,1901.9 L1802.1,1902 L1804.1,1902.2 L1806,1902.3 L1807.9,1902.3 L1809.9,1902.4 L1811.8,1902.4 L1813.8,1902.5 L1815.7,1902.5 L1817.7,1902.5 L1819.6,1902.4 L1821.5,1902.4 L1823.5,1902.3 L1825.4,1902.3 L1827.4,1902.2 L1829.3,1902.1 L1831.3,1902 L1833.2,1901.9 L1835.2,1901.8 L1837.1,1901.7 L1839.1,1901.5 L1841,1901.4 L1843,1901.3 L1844.9,1901.2 L1846.9,1901 L1848.8,1900.9 L1850.8,1900.8 L1852.7,1900.7 L1854.7,1900.6 L1856.6,1900.4 L1858.6,1900.3 L1860.5,1900.2 L1862.5,1900.1 L1864.4,1900.1 L1866.4,1900 L1868.3,1899.9 L1870.3,1899.9 L1872.2,1899.8 L1874.2,1899.8 L1876.1,1899.7 L1878,1899.7 L1880,1899.7 L1881.9,1899.6 L1883.9,1899.6 L1885.8,1899.6 L1887.8,1899.6 L1889.7,1899.6 L1891.7,1899.6 L1893.6,1899.6 L1895.5,1899.6 L1897.5,1899.6 L1899.4,1899.7 L1901.4,1899.7 L1903.3,1899.7 L1905.3,1899.7 L1907.2,1899.8 L1909.2,1899.8 L1911.1,1899.8 L1913,1899.9 L1915,1899.9 L1916.9,1900 L1918.9,1900 L1920.8,1900.1 L1922.8,1900.1 L1924.7,1900.2 L1926.6,1900.2 L1928.6,1900.3 L1930.5,1900.3" fill="none" stroke="#FF0000" stroke-width="3.2" stroke-dasharray="4.5 19.5"/>
<path d="M1289,1882.4 C1290.6,1882.1 1295.3,1882.6 1298.5,1880.5 C1301.7,1878.4 1305.2,1875 1308,1870.1 C1310.8,1865.2 1313,1858.5 1315.1,1851.1 C1317.3,1843.6 1319.3,1834.9 1321.1,1825.4 C1322.9,1815.9 1324.4,1804.4 1325.8,1794.1 C1327.2,1783.8 1328.2,1773.5 1329.4,1763.7 C1330.6,1753.9 1331.7,1744.3 1333,1735.2 C1334.2,1726.2 1335.1,1718.8 1337,1709.6 C1338.9,1700.4 1341.4,1689.7 1344.6,1680.2 C1347.8,1670.7 1352,1660.7 1356.5,1652.6 C1361,1644.6 1365.3,1639 1371.7,1631.7 C1378,1624.5 1386.1,1616.5 1394.5,1608.9 C1402.9,1601.4 1412.3,1594.1 1422.1,1586.2 C1431.8,1578.2 1443.8,1568.9 1452.9,1561.5 C1462.1,1554 1469.2,1547.7 1476.7,1541.5 C1484.2,1535.4 1491.4,1529.3 1498.1,1524.4 C1504.8,1519.5 1511.6,1515.4 1517.1,1512.1 C1522.6,1508.8 1525,1507.3 1531.4,1504.5 C1537.7,1501.7 1547.6,1498.3 1555.1,1495 C1562.6,1491.7 1570.8,1487.9 1576.5,1484.6 C1582.2,1481.2 1585.1,1478.9 1589.1,1475.1 C1593,1471.3 1596,1467.6 1600.3,1461.8 C1604.5,1455.9 1609.4,1447.4 1614.5,1439.9 C1619.7,1432.5 1626,1423.3 1631.1,1417.1 C1636.3,1411 1640.6,1407.2 1645.4,1402.9 C1650.2,1398.6 1655.5,1394.7 1659.7,1391.5 C1663.8,1388.3 1666.5,1386.4 1670.1,1383.9 C1673.7,1381.4 1675.7,1379.5 1681,1376.3 C1686.4,1373.2 1694.9,1368.1 1702.4,1364.9 C1709.9,1361.8 1715.9,1360.2 1726.2,1357.3 C1736.5,1354.5 1751.5,1350 1764.2,1347.8 C1776.9,1345.6 1789.5,1345.3 1802.2,1344 C1814.9,1342.8 1825.6,1341.3 1840.2,1340.2 C1854.9,1339.1 1874.3,1338.7 1890.1,1337.4 C1906,1336.1 1927.7,1333.4 1935.3,1332.6" fill="none" stroke="#424242" stroke-width="10.5" stroke-linejoin="round" stroke-linecap="round"/>
<path d="M1289,1886.2 C1291.7,1884.3 1300.4,1880.8 1305.2,1874.8 C1309.9,1868.8 1314,1859.3 1317.7,1850.1 C1321.5,1840.9 1324.8,1830.2 1327.7,1819.7 C1330.7,1809.3 1333.2,1797.9 1335.3,1787.5 C1337.4,1777 1338.7,1765.8 1340.3,1757.1 C1342,1748.4 1343.2,1742.7 1345.3,1735.2 C1347.4,1727.8 1350,1719.6 1352.9,1712.4 C1355.8,1705.3 1358.3,1699.6 1362.9,1692.5 C1367.5,1685.4 1373.4,1677.3 1380.5,1669.7 C1387.6,1662.1 1397.1,1653.6 1405.4,1646.9 C1413.8,1640.3 1420.2,1635.2 1430.6,1629.8 C1441.1,1624.5 1455.6,1619.7 1468.2,1614.6 C1480.7,1609.6 1491.1,1603.6 1505.7,1599.5 C1520.3,1595.3 1541.2,1593 1555.8,1590 C1570.4,1586.9 1581,1584.1 1593.4,1581.4 C1605.8,1578.7 1615.7,1576.8 1630.2,1573.8 C1644.7,1570.8 1663.6,1566.4 1680.3,1563.4 C1697,1560.4 1717.9,1558.1 1730.5,1555.8 C1743,1553.4 1748.1,1551.5 1755.4,1549.1 C1762.7,1546.8 1767.9,1540.9 1774.2,1541.5 C1780.4,1542.2 1787.7,1552.3 1792.9,1552.9 C1798.2,1553.6 1801.3,1550.7 1805.5,1545.3 C1809.7,1539.9 1814,1529 1818.1,1520.6 C1822.3,1512.3 1826.3,1503.9 1830.5,1495 C1834.6,1486.1 1838.9,1477 1843.1,1467.5 C1847.3,1458 1851.5,1448.5 1855.7,1438 C1859.9,1427.6 1864.1,1413.2 1868.3,1404.8 C1872.5,1396.4 1874.6,1394.7 1880.9,1387.7 C1887.1,1380.8 1897.5,1370 1905.8,1363 C1914.2,1356.1 1926.8,1348.8 1931,1345.9" fill="none" stroke="#880088" stroke-width="10.5" stroke-linejoin="round" stroke-linecap="round"/>
<circle cx="1289" cy="1329.1" r="13.5" fill="#0000FF"/><circle cx="1360.3" cy="1331.6" r="13.5" fill="#0000FF"/><circle cx="1431.6" cy="1355.9" r="13.5" fill="#0000FF"/><circle cx="1502.8" cy="1379.2" r="13.5" fill="#0000FF"/><circle cx="1574.1" cy="1410.5" r="13.5" fill="#0000FF"/><circle cx="1645.4" cy="1546.5" r="13.5" fill="#0000FF"/><circle cx="1716.7" cy="1807.6" r="13.5" fill="#0000FF"/><circle cx="1788" cy="1900.3" r="13.5" fill="#0000FF"/><circle cx="1859.2" cy="1900.3" r="13.5" fill="#0000FF"/><circle cx="1930.5" cy="1900.3" r="13.5" fill="#0000FF"/>
<circle cx="1289" cy="1269.7" r="13.5" fill="#FF0000"/><circle cx="1360.3" cy="1294.7" r="13.5" fill="#FF0000"/><circle cx="1431.6" cy="1355.9" r="13.5" fill="#FF0000"/><circle cx="1502.8" cy="1415" r="13.5" fill="#FF0000"/><circle cx="1574.1" cy="1475.7" r="13.5" fill="#FF0000"/><circle cx="1645.4" cy="1583.3" r="13.5" fill="#FF0000"/><circle cx="1716.7" cy="1846.9" r="13.5" fill="#FF0000"/><circle cx="1788" cy="1900.3" r="13.5" fill="#FF0000"/><circle cx="1859.2" cy="1900.3" r="13.5" fill="#FF0000"/><circle cx="1930.5" cy="1900.3" r="13.5" fill="#FF0000"/>
<line x1="1300.2" y1="1307.3" x2="1339.8" y2="1307.3" stroke="#000" stroke-width="3.5"/><path d="M1335.8,1302.3 L1347.8,1307.3 L1335.8,1312.3 Z" fill="#000"/>
<polygon points="1360,1759.3 1365.5,1753.8 1451.5,1753.8 1453,1755.3 1453,1763.3 1451.5,1764.8 1365.5,1764.8" fill="#424242"/>
<polygon points="1360,1803.6 1365.5,1798.1 1451.5,1798.1 1453,1799.6 1453,1807.6 1451.5,1809.1 1365.5,1809.1" fill="#880088"/>
<circle cx="1406.2" cy="1857" r="13" fill="#0000FF"/>
<circle cx="1406.2" cy="1901.8" r="13" fill="#FF0000"/>
<text x="1458" y="1770.7" font-size="30.5" text-anchor="start" fill="#000" letter-spacing="3">Blank</text>
<text y="1815.5" font-size="30.5" letter-spacing="2"><tspan x="1458">Pt</tspan><tspan x="1489.5" y="1827" font-size="16" letter-spacing="3.5">50</tspan><tspan x="1515" y="1815.5" letter-spacing="3">-Pd</tspan><tspan x="1571" y="1827" font-size="16" letter-spacing="3.5">50</tspan></text>
<text x="1458" y="1867.6" font-size="30.5" text-anchor="start" fill="#000" letter-spacing="2">Pt conc.</text>
<text x="1458" y="1913.2" font-size="30.5" text-anchor="start" fill="#000" letter-spacing="2">Pd conc.</text>
<path d="M1253.6,1222.5 H1964.1 V1932.4 H1253.6" fill="none" stroke="#000" stroke-width="8" stroke-linecap="square"/>
<line x1="1253.6" y1="1222.5" x2="1253.6" y2="1932.4" stroke="#880088" stroke-width="8" stroke-linecap="square"/>
<path d="M1289,1935.4 V1951.4 M1407.8,1935.4 V1951.4 M1526.6,1935.4 V1951.4 M1645.4,1935.4 V1951.4 M1764.2,1935.4 V1951.4 M1883,1935.4 V1951.4 M1348.4,1935.4 V1942.9 M1467.2,1935.4 V1942.9 M1586,1935.4 V1942.9 M1704.8,1935.4 V1942.9 M1823.6,1935.4 V1942.9 M1942.4,1935.4 V1942.9 M1289,1225.5 V1246.5 M1328.7,1225.5 V1235 M1368.4,1225.5 V1235 M1408.1,1225.5 V1235 M1447.8,1225.5 V1235 M1487.6,1225.5 V1246.5 M1527.3,1225.5 V1235 M1567,1225.5 V1235 M1606.7,1225.5 V1235 M1646.4,1225.5 V1235 M1686.1,1225.5 V1246.5 M1725.8,1225.5 V1235 M1765.5,1225.5 V1235 M1805.2,1225.5 V1235 M1844.9,1225.5 V1235 M1884.7,1225.5 V1246.5 M1924.4,1225.5 V1235 M1964.1,1225.5 V1235 M1967.1,1901 H1983.1 M1967.1,1844.5 H1974.6 M1967.1,1787.9 H1983.1 M1967.1,1731.3 H1974.6 M1967.1,1674.8 H1983.1 M1967.1,1618.2 H1974.6 M1967.1,1561.7 H1983.1 M1967.1,1505.2 H1974.6 M1967.1,1448.6 H1983.1 M1967.1,1392 H1974.6 M1967.1,1335.5 H1983.1 M1967.1,1279 H1974.6 M1967.1,1222.4 H1983.1" stroke="#000" stroke-width="7.5" fill="none"/>
<path d="M1250.6,1222.5 H1237.6 M1250.6,1270 H1245.6 M1250.6,1317.5 H1237.6 M1250.6,1364.9 H1245.6 M1250.6,1412.4 H1237.6 M1250.6,1459.9 H1245.6 M1250.6,1507.3 H1237.6 M1250.6,1554.8 H1245.6 M1250.6,1602.3 H1237.6 M1250.6,1649.8 H1245.6 M1250.6,1697.2 H1237.6 M1250.6,1744.7 H1245.6 M1250.6,1792.2 H1237.6 M1250.6,1839.7 H1245.6 M1250.6,1887.2 H1237.6 M1250.6,1934.6 H1245.6" stroke="#880088" stroke-width="7.5" fill="none"/>
<text transform="translate(1289,1998.4) scale(0.940,1)" font-size="50.5" text-anchor="middle">0</text>
<text transform="translate(1407.8,1998.4) scale(0.940,1)" font-size="50.5" text-anchor="middle">5</text>
<text transform="translate(1526.6,1998.4) scale(0.940,1)" font-size="50.5" text-anchor="middle">10</text>
<text transform="translate(1645.4,1998.4) scale(0.940,1)" font-size="50.5" text-anchor="middle">15</text>
<text transform="translate(1764.2,1998.4) scale(0.940,1)" font-size="50.5" text-anchor="middle">20</text>
<text transform="translate(1883,1998.4) scale(0.940,1)" font-size="50.5" text-anchor="middle">25</text>
<text transform="translate(1289,1195.5) scale(0.940,1)" font-size="50.5" text-anchor="middle">0</text>
<text transform="translate(1487.6,1195.5) scale(0.940,1)" font-size="50.5" text-anchor="middle">1500</text>
<text transform="translate(1686.1,1195.5) scale(0.940,1)" font-size="50.5" text-anchor="middle">3000</text>
<text transform="translate(1884.7,1195.5) scale(0.940,1)" font-size="50.5" text-anchor="middle">4500</text>
<text transform="translate(1225.1,1900.7) scale(0.940,1)" font-size="50.5" text-anchor="end">3</text>
<text transform="translate(1225.1,1805.7) scale(0.940,1)" font-size="50.5" text-anchor="end">4</text>
<text transform="translate(1225.1,1710.8) scale(0.940,1)" font-size="50.5" text-anchor="end">5</text>
<text transform="translate(1225.1,1615.8) scale(0.940,1)" font-size="50.5" text-anchor="end">6</text>
<text transform="translate(1225.1,1520.8) scale(0.940,1)" font-size="50.5" text-anchor="end">7</text>
<text transform="translate(1225.1,1425.9) scale(0.940,1)" font-size="50.5" text-anchor="end">8</text>
<text transform="translate(1225.1,1331) scale(0.940,1)" font-size="50.5" text-anchor="end">9</text>
<text transform="translate(1225.1,1236) scale(0.940,1)" font-size="50.5" text-anchor="end">10</text>
<text transform="translate(1993.6,1912.5) scale(0.940,1)" font-size="50.5" text-anchor="start">0.0</text>
<text transform="translate(1993.6,1799.4) scale(0.940,1)" font-size="50.5" text-anchor="start">0.5</text>
<text transform="translate(1993.6,1686.3) scale(0.940,1)" font-size="50.5" text-anchor="start">1.0</text>
<text transform="translate(1993.6,1573.2) scale(0.940,1)" font-size="50.5" text-anchor="start">1.5</text>
<text transform="translate(1993.6,1460.1) scale(0.940,1)" font-size="50.5" text-anchor="start">2.0</text>
<text transform="translate(1993.6,1347) scale(0.940,1)" font-size="50.5" text-anchor="start">2.5</text>
<text transform="translate(1993.6,1233.9) scale(0.940,1)" font-size="50.5" text-anchor="start">3.0</text>
<text transform="translate(1606.3,2053.9) scale(0.952,1)" font-size="50.4" text-anchor="middle">time (min)</text>
<text transform="translate(1290.6,1135.5) scale(0.975,1)" font-size="49.5" text-anchor="start">Volume charge density (C L<tspan font-size="29" dy="-23">-1</tspan><tspan dy="23" dx="3">)</tspan></text>
<text transform="translate(1176.6,1538.8) rotate(-90)" font-size="50" text-anchor="middle">pH</text>
<text transform="translate(2075.1,1548.5) rotate(90)" font-size="50" text-anchor="middle">Concentration (mM)</text>
<text transform="translate(1159.6,1157.5) scale(0.890,1)" font-size="87" text-anchor="start">d<tspan font-size="82" dx="4">)</tspan></text>
<path d="M845.2,2710.2 L846.8,2710.4 L848.5,2710.5 L850.1,2710.7 L851.8,2710.9 L853.4,2711 L855,2711.2 L856.7,2711.4 L858.3,2711.5 L859.9,2711.7 L861.6,2711.9 L863.2,2712 L864.9,2712.2 L866.5,2712.3 L868.1,2712.5 L869.8,2712.7 L871.4,2712.8 L873.1,2713 L874.7,2713.2 L876.3,2713.3 L878,2713.5 L879.6,2713.6 L881.3,2713.8 L882.9,2714 L884.5,2714.1 L886.2,2714.3 L887.8,2714.4 L889.5,2714.6 L891.1,2714.8 L892.7,2714.9 L894.4,2715.1 L896,2715.2 L897.7,2715.4 L899.3,2715.5 L900.9,2715.7 L902.6,2715.8 L904.2,2716 L905.9,2716.1 L907.5,2716.3 L909.1,2716.4 L910.8,2716.6 L912.4,2716.7 L914.1,2716.9 L915.7,2717 L917.3,2717.1 L919,2717.3 L920.6,2717.4 L922.3,2717.6 L923.9,2717.7 L925.5,2717.8 L927.2,2718 L928.8,2718.1 L930.5,2718.2 L932.1,2718.4 L933.8,2718.5 L935.4,2718.6 L937,2718.8 L938.7,2718.9 L940.3,2719 L942,2719.2 L943.6,2719.3 L945.3,2719.4 L946.9,2719.6 L948.5,2719.7 L950.2,2719.8 L951.8,2720 L953.5,2720.1 L955.1,2720.2 L956.8,2720.4 L958.4,2720.5 L960,2720.7 L961.7,2720.8 L963.3,2721 L965,2721.1 L966.6,2721.3 L968.2,2721.4 L969.9,2721.6 L971.5,2721.8 L973.2,2721.9 L974.8,2722.1 L976.4,2722.3 L978.1,2722.5 L979.7,2722.6 L981.4,2722.8 L983,2723 L984.6,2723.2 L986.3,2723.4 L987.9,2723.6 L989.5,2723.8 L991.2,2724 L992.8,2724.3 L994.4,2724.5 L996.1,2724.7 L997.7,2724.9 L999.3,2725.2 L1001,2725.4 L1002.6,2725.7 L1004.2,2725.9 L1005.8,2726.2 L1007.5,2726.5 L1009.1,2726.7 L1010.7,2727 L1012.4,2727.3 L1014,2727.6 L1015.6,2727.9 L1017.2,2728.2 L1018.9,2728.5 L1020.5,2728.8 L1022.1,2729.1 L1023.7,2729.4 L1025.4,2729.7 L1027,2730 L1028.6,2730.4 L1030.2,2730.7 L1031.9,2731 L1033.5,2731.3 L1035.1,2731.6 L1036.7,2731.9 L1038.4,2732.3 L1040,2732.6 L1041.6,2732.9 L1043.2,2733.2 L1044.9,2733.5 L1046.5,2733.8 L1048.1,2734.1 L1049.8,2734.5 L1051.4,2734.8 L1053,2735.1 L1054.7,2735.4 L1056.3,2735.7 L1057.9,2735.9 L1059.5,2736.2 L1061.2,2736.5 L1062.8,2736.8 L1064.5,2737.1 L1066.1,2737.3 L1067.7,2737.6 L1069.4,2737.8 L1071,2738.1 L1072.6,2738.3 L1074.3,2738.6 L1075.9,2738.8 L1077.6,2739 L1079.2,2739.2 L1080.9,2739.4 L1082.5,2739.6 L1084.2,2739.8 L1085.8,2740 L1087.5,2740.2 L1089.1,2740.3 L1090.8,2740.5 L1092.4,2740.6 L1094.1,2740.8 L1095.8,2740.9 L1097.4,2741.1 L1099.1,2741.2 L1100.7,2741.4 L1102.4,2741.5 L1104,2741.7 L1105.7,2741.8 L1107.4,2742 L1109,2742.1 L1110.7,2742.3 L1112.3,2742.4 L1114,2742.6 L1115.6,2742.7 L1117.3,2742.9 L1118.9,2743.1 L1120.6,2743.3 L1122.2,2743.5 L1123.9,2743.7 L1125.5,2743.9 L1127.1,2744.1 L1128.8,2744.4 L1130.4,2744.6 L1132,2744.9 L1133.7,2745.2 L1135.3,2745.5 L1136.9,2745.8 L1138.5,2746.1 L1140.2,2746.4 L1141.8,2746.8 L1143.4,2747.2 L1145,2747.6 L1146.6,2748 L1148.2,2748.4 L1149.8,2748.9 L1151.4,2749.4 L1153,2749.9 L1154.6,2750.4 L1156.1,2750.9 L1157.7,2751.5 L1159.3,2752.1 L1160.8,2752.7 L1162.4,2753.4 L1164,2754.1 L1165.5,2754.8 L1167.1,2755.5 L1168.6,2756.3 L1170.1,2757 L1171.7,2757.8 L1173.2,2758.7 L1174.7,2759.5 L1176.2,2760.4 L1177.7,2761.3 L1179.2,2762.2 L1180.7,2763.1 L1182.2,2764.1 L1183.7,2765.1 L1185.2,2766.1 L1186.7,2767.1 L1188.2,2768.1 L1189.7,2769.2 L1191.2,2770.3 L1192.6,2771.3 L1194.1,2772.5 L1195.6,2773.6 L1197,2774.7 L1198.5,2775.9 L1200,2777.1 L1201.4,2778.2 L1202.9,2779.4 L1204.3,2780.7 L1205.7,2781.9 L1207.2,2783.1 L1208.6,2784.4 L1210.1,2785.7 L1211.5,2787 L1212.9,2788.3 L1214.3,2789.6 L1215.8,2790.9 L1217.2,2792.2 L1218.6,2793.5 L1220,2794.9 L1221.4,2796.2 L1222.8,2797.6 L1224.2,2799 L1225.6,2800.4 L1227,2801.8 L1228.4,2803.1 L1229.8,2804.5 L1231.2,2806 L1232.6,2807.4 L1234,2808.8 L1235.4,2810.2 L1236.8,2811.6 L1238.2,2813.1 L1239.6,2814.5 L1241,2815.9 L1242.4,2817.4 L1243.7,2818.8 L1245.1,2820.3 L1246.5,2821.7 L1247.9,2823.2 L1249.3,2824.6 L1250.6,2826 L1252,2827.5 L1253.4,2828.9 L1254.8,2830.4 L1256.1,2831.8 L1257.5,2833.3 L1258.9,2834.7 L1260.3,2836.1 L1261.6,2837.5 L1263,2839 L1264.4,2840.4 L1265.8,2841.8 L1267.2,2843.2 L1268.6,2844.6 L1269.9,2846 L1271.3,2847.4 L1272.7,2848.8 L1274.1,2850.1 L1275.5,2851.5 L1276.9,2852.8 L1278.3,2854.2 L1279.7,2855.5 L1281.1,2856.8 L1282.5,2858.1 L1283.9,2859.4 L1285.3,2860.7 L1286.7,2862 L1288.1,2863.3 L1289.6,2864.5 L1291,2865.7 L1292.4,2867 L1293.8,2868.2 L1295.3,2869.4 L1296.7,2870.5 L1298.2,2871.7 L1299.6,2872.8 L1301.1,2874 L1302.5,2875.1 L1304,2876.2 L1305.4,2877.2 L1306.9,2878.3 L1308.4,2879.3 L1309.9,2880.3 L1311.4,2881.3 L1312.9,2882.3 L1314.4,2883.2 L1315.9,2884.2 L1317.4,2885.1 L1318.9,2886 L1320.4,2886.8 L1321.9,2887.7 L1323.5,2888.5 L1325,2889.3 L1326.6,2890 L1328.1,2890.8 L1329.7,2891.5 L1331.2,2892.2 L1332.8,2892.9 L1334.4,2893.6 L1336,2894.2 L1337.5,2894.9 L1339.1,2895.5 L1340.7,2896.1 L1342.3,2896.7 L1343.9,2897.2 L1345.5,2897.8 L1347.1,2898.3 L1348.7,2898.8 L1350.4,2899.3 L1352,2899.7 L1353.6,2900.2 L1355.2,2900.6 L1356.8,2901.1 L1358.5,2901.5 L1360.1,2901.8 L1361.7,2902.2 L1363.4,2902.6 L1365,2902.9 L1366.7,2903.3 L1368.3,2903.6 L1370,2903.9 L1371.6,2904.2 L1373.2,2904.4 L1374.9,2904.7 L1376.5,2905 L1378.2,2905.2 L1379.9,2905.4 L1381.5,2905.6 L1383.2,2905.8 L1384.8,2906 L1386.5,2906.2 L1388.1,2906.4 L1389.8,2906.5 L1391.4,2906.7 L1393.1,2906.8 L1394.7,2907 L1396.4,2907.1 L1398.1,2907.2 L1399.7,2907.3 L1401.4,2907.4 L1403,2907.5 L1404.7,2907.6 L1406.3,2907.6 L1408,2907.7 L1409.6,2907.8 L1411.3,2907.8 L1412.9,2907.9 L1414.6,2907.9 L1416.2,2907.9 L1417.8,2907.9 L1419.5,2907.9 L1421.1,2908 L1422.8,2908 L1424.4,2908 L1426.1,2907.9 L1427.7,2907.9 L1429.4,2907.9 L1431,2907.9 L1432.6,2907.9 L1434.3,2907.8 L1435.9,2907.8 L1437.6,2907.7 L1439.2,2907.7 L1440.9,2907.6 L1442.5,2907.6 L1444.1,2907.5 L1445.8,2907.4 L1447.4,2907.4 L1449.1,2907.3 L1450.7,2907.2 L1452.3,2907.2 L1454,2907.1 L1455.6,2907 L1457.3,2906.9 L1458.9,2906.8 L1460.5,2906.7 L1462.2,2906.7 L1463.8,2906.6 L1465.5,2906.5 L1467.1,2906.4 L1468.7,2906.3 L1470.4,2906.2 L1472,2906.1 L1473.6,2906 L1475.3,2905.9" fill="none" stroke="#0000FF" stroke-width="3.2" stroke-dasharray="4.5 19.5"/>
<path d="M845.2,2263.4 L847,2264.3 L848.8,2265.2 L850.6,2266.2 L852.4,2267.1 L854.2,2268 L856,2268.9 L857.8,2269.8 L859.6,2270.8 L861.4,2271.7 L863.2,2272.6 L865,2273.5 L866.8,2274.4 L868.6,2275.4 L870.4,2276.3 L872.2,2277.2 L874,2278.2 L875.8,2279.1 L877.6,2280 L879.4,2281 L881.2,2281.9 L883,2282.8 L884.8,2283.8 L886.6,2284.7 L888.4,2285.7 L890.2,2286.6 L892,2287.6 L893.8,2288.5 L895.6,2289.5 L897.4,2290.4 L899.2,2291.4 L901,2292.3 L902.8,2293.3 L904.6,2294.3 L906.4,2295.3 L908.2,2296.2 L910,2297.2 L911.8,2298.2 L913.5,2299.2 L915.3,2300.2 L917.1,2301.2 L918.9,2302.2 L920.7,2303.2 L922.5,2304.2 L924.3,2305.2 L926,2306.2 L927.8,2307.2 L929.6,2308.2 L931.4,2309.2 L933.2,2310.3 L934.9,2311.3 L936.7,2312.3 L938.5,2313.4 L940.3,2314.4 L942,2315.5 L943.8,2316.5 L945.6,2317.6 L947.3,2318.7 L949.1,2319.7 L950.9,2320.8 L952.6,2321.9 L954.4,2322.9 L956.2,2324 L957.9,2325.1 L959.7,2326.2 L961.5,2327.3 L963.2,2328.4 L965,2329.5 L966.7,2330.6 L968.5,2331.7 L970.2,2332.8 L972,2334 L973.8,2335.1 L975.5,2336.2 L977.3,2337.4 L979,2338.5 L980.8,2339.6 L982.5,2340.8 L984.2,2341.9 L986,2343.1 L987.7,2344.2 L989.5,2345.4 L991.2,2346.6 L993,2347.7 L994.7,2348.9 L996.4,2350.1 L998.2,2351.3 L999.9,2352.5 L1001.6,2353.7 L1003.4,2354.9 L1005.1,2356.1 L1006.8,2357.3 L1008.6,2358.5 L1010.3,2359.7 L1012,2360.9 L1013.7,2362.1 L1015.5,2363.3 L1017.2,2364.5 L1018.9,2365.8 L1020.6,2367 L1022.4,2368.2 L1024.1,2369.4 L1025.8,2370.7 L1027.5,2371.9 L1029.3,2373.1 L1031,2374.3 L1032.7,2375.6 L1034.4,2376.8 L1036.2,2378 L1037.9,2379.2 L1039.6,2380.5 L1041.3,2381.7 L1043.1,2382.9 L1044.8,2384.1 L1046.5,2385.3 L1048.2,2386.6 L1050,2387.8 L1051.7,2389 L1053.4,2390.2 L1055.2,2391.4 L1056.9,2392.6 L1058.6,2393.8 L1060.4,2394.9 L1062.1,2396.1 L1063.9,2397.3 L1065.6,2398.5 L1067.3,2399.6 L1069.1,2400.8 L1070.8,2402 L1072.6,2403.1 L1074.3,2404.2 L1076.1,2405.4 L1077.8,2406.5 L1079.6,2407.6 L1081.4,2408.7 L1083.1,2409.8 L1084.9,2410.9 L1086.7,2412 L1088.4,2413.1 L1090.2,2414.2 L1092,2415.3 L1093.8,2416.3 L1095.5,2417.4 L1097.3,2418.5 L1099.1,2419.5 L1100.9,2420.6 L1102.6,2421.6 L1104.4,2422.7 L1106.2,2423.8 L1108,2424.9 L1109.7,2425.9 L1111.5,2427 L1113.3,2428.1 L1115.1,2429.2 L1116.8,2430.3 L1118.6,2431.4 L1120.3,2432.5 L1122.1,2433.6 L1123.9,2434.7 L1125.6,2435.9 L1127.4,2437 L1129.1,2438.2 L1130.8,2439.4 L1132.6,2440.5 L1134.3,2441.8 L1136,2443 L1137.8,2444.2 L1139.5,2445.5 L1141.2,2446.7 L1142.9,2448 L1144.6,2449.3 L1146.3,2450.6 L1147.9,2452 L1149.6,2453.3 L1151.3,2454.7 L1153,2456.1 L1154.6,2457.6 L1156.3,2459 L1157.9,2460.5 L1159.5,2462 L1161.1,2463.6 L1162.8,2465.1 L1164.4,2466.7 L1166,2468.3 L1167.5,2470 L1169.1,2471.6 L1170.7,2473.3 L1172.2,2475.1 L1173.8,2476.8 L1175.3,2478.6 L1176.9,2480.4 L1178.4,2482.2 L1179.9,2484.1 L1181.4,2485.9 L1182.9,2487.8 L1184.4,2489.8 L1185.9,2491.7 L1187.4,2493.7 L1188.8,2495.7 L1190.3,2497.7 L1191.7,2499.8 L1193.2,2501.9 L1194.6,2504 L1196,2506.1 L1197.4,2508.3 L1198.8,2510.4 L1200.2,2512.6 L1201.6,2514.9 L1203,2517.1 L1204.4,2519.4 L1205.8,2521.7 L1207.1,2524 L1208.5,2526.4 L1209.8,2528.8 L1211.1,2531.2 L1212.5,2533.6 L1213.8,2536 L1215.1,2538.5 L1216.4,2541 L1217.7,2543.5 L1219,2546 L1220.3,2548.6 L1221.5,2551.2 L1222.8,2553.8 L1224,2556.4 L1225.3,2559.1 L1226.5,2561.7 L1227.8,2564.4 L1229,2567.2 L1230.2,2569.9 L1231.4,2572.7 L1232.6,2575.5 L1233.8,2578.3 L1235,2581.1 L1236.2,2584 L1237.3,2586.8 L1238.5,2589.7 L1239.7,2592.7 L1240.8,2595.6 L1241.9,2598.6 L1243.1,2601.6 L1244.2,2604.6 L1245.3,2607.6 L1246.5,2610.6 L1247.6,2613.7 L1248.7,2616.7 L1249.8,2619.8 L1250.9,2622.9 L1252,2626 L1253,2629.2 L1254.1,2632.3 L1255.2,2635.5 L1256.3,2638.6 L1257.4,2641.8 L1258.4,2645 L1259.5,2648.2 L1260.6,2651.4 L1261.6,2654.6 L1262.7,2657.8 L1263.7,2661 L1264.8,2664.2 L1265.8,2667.5 L1266.9,2670.7 L1268,2673.9 L1269,2677.2 L1270.1,2680.4 L1271.1,2683.7 L1272.2,2686.9 L1273.2,2690.1 L1274.3,2693.4 L1275.3,2696.6 L1276.4,2699.8 L1277.5,2703.1 L1278.5,2706.3 L1279.6,2709.5 L1280.7,2712.7 L1281.7,2715.9 L1282.8,2719.1 L1283.9,2722.3 L1285,2725.5 L1286,2728.7 L1287.1,2731.8 L1288.2,2735 L1289.3,2738.1 L1290.4,2741.3 L1291.5,2744.4 L1292.6,2747.5 L1293.8,2750.6 L1294.9,2753.6 L1296,2756.7 L1297.1,2759.7 L1298.3,2762.7 L1299.4,2765.7 L1300.6,2768.7 L1301.8,2771.7 L1302.9,2774.6 L1304.1,2777.6 L1305.3,2780.5 L1306.5,2783.3 L1307.7,2786.2 L1308.9,2789 L1310.2,2791.8 L1311.4,2794.6 L1312.6,2797.3 L1313.9,2800.1 L1315.2,2802.8 L1316.5,2805.4 L1317.7,2808.1 L1319,2810.7 L1320.4,2813.2 L1321.7,2815.8 L1323,2818.3 L1324.4,2820.8 L1325.7,2823.2 L1327.1,2825.7 L1328.5,2828.1 L1329.8,2830.4 L1331.2,2832.7 L1332.7,2835 L1334.1,2837.3 L1335.5,2839.5 L1336.9,2841.7 L1338.4,2843.9 L1339.9,2846 L1341.3,2848.1 L1342.8,2850.1 L1344.3,2852.2 L1345.8,2854.2 L1347.3,2856.1 L1348.8,2858 L1350.4,2859.9 L1351.9,2861.8 L1353.5,2863.6 L1355,2865.4 L1356.6,2867.1 L1358.2,2868.8 L1359.8,2870.5 L1361.4,2872.1 L1363,2873.7 L1364.6,2875.2 L1366.3,2876.8 L1367.9,2878.2 L1369.5,2879.7 L1371.2,2881.1 L1372.9,2882.5 L1374.5,2883.8 L1376.2,2885.1 L1377.9,2886.3 L1379.6,2887.5 L1381.3,2888.7 L1383.1,2889.8 L1384.8,2890.9 L1386.5,2892 L1388.3,2893 L1390,2893.9 L1391.8,2894.9 L1393.6,2895.7 L1395.4,2896.6 L1397.1,2897.4 L1398.9,2898.1 L1400.7,2898.8 L1402.6,2899.5 L1404.4,2900.2 L1406.2,2900.8 L1408,2901.3 L1409.9,2901.9 L1411.7,2902.4 L1413.6,2902.8 L1415.5,2903.2 L1417.3,2903.6 L1419.2,2904 L1421.1,2904.3 L1423,2904.6 L1424.9,2904.9 L1426.8,2905.2 L1428.7,2905.4 L1430.6,2905.6 L1432.5,2905.8 L1434.4,2906 L1436.3,2906.1 L1438.2,2906.2 L1440.2,2906.3 L1442.1,2906.4 L1444,2906.4 L1446,2906.5 L1447.9,2906.5 L1449.8,2906.5 L1451.8,2906.5 L1453.7,2906.5 L1455.7,2906.5 L1457.6,2906.5 L1459.6,2906.4 L1461.6,2906.4 L1463.5,2906.3 L1465.5,2906.3 L1467.4,2906.2 L1469.4,2906.1 L1471.4,2906.1 L1473.3,2906 L1475.3,2905.9" fill="none" stroke="#FF0000" stroke-width="3.2" stroke-dasharray="4.5 19.5"/>
<path d="M845.2,2877.4 C847.8,2877 855.7,2877.5 861,2875.5 C866.2,2873.4 872.1,2869.9 876.7,2865 C881.3,2860.1 884.9,2853.5 888.5,2846 C892.1,2838.6 895.4,2829.9 898.4,2820.4 C901.3,2810.9 903.9,2799.4 906.2,2789.1 C908.5,2778.8 910.2,2768.5 912.1,2758.7 C914.1,2748.9 916,2739.3 918.1,2730.3 C920.2,2721.2 921.5,2713.8 924.7,2704.6 C928,2695.5 932,2684.7 937.3,2675.2 C942.7,2665.7 949.6,2655.8 957,2647.7 C964.5,2639.6 971.7,2634.1 982.2,2626.8 C992.7,2619.5 1006.1,2611.6 1020,2604 C1034,2596.5 1049.6,2589.2 1065.7,2581.3 C1081.9,2573.4 1101.8,2564 1116.9,2556.6 C1132,2549.2 1143.8,2542.8 1156.3,2536.7 C1168.8,2530.5 1180.6,2524.5 1191.7,2519.6 C1202.9,2514.7 1214.1,2510.6 1223.2,2507.2 C1232.4,2503.9 1236.4,2502.5 1246.9,2499.7 C1257.4,2496.8 1273.8,2493.5 1286.3,2490.2 C1298.7,2486.8 1312.3,2483 1321.7,2479.7 C1331.1,2476.4 1336,2474 1342.6,2470.2 C1349.1,2466.4 1354.1,2462.8 1361.1,2456.9 C1368.1,2451.1 1376.2,2442.6 1384.7,2435.1 C1393.2,2427.7 1403.7,2418.5 1412.3,2412.3 C1420.8,2406.2 1428,2402.4 1435.9,2398.1 C1443.8,2393.8 1452.7,2389.9 1459.5,2386.7 C1466.4,2383.6 1474,2380.4 1476.9,2379.1" fill="none" stroke="#424242" stroke-width="10.5" stroke-linejoin="round" stroke-linecap="round"/>
<path d="M845.2,2878.3 C847.2,2878 853.4,2878 857,2876.4 C860.6,2874.8 863.4,2873.2 866.9,2868.8 C870.3,2864.4 873.6,2859 877.9,2849.8 C882.2,2840.7 887.9,2826.1 892.8,2813.8 C897.8,2801.4 903.2,2788 907.8,2775.8 C912.4,2763.6 916.2,2750.7 920.4,2740.7 C924.6,2730.7 928,2723.6 933,2716 C938.1,2708.4 943.7,2702.3 950.7,2695.1 C957.8,2688 966.4,2680 975.5,2673.3 C984.7,2666.7 994.6,2661.1 1005.9,2655.3 C1017.2,2649.4 1030.8,2643.1 1043.3,2638.2 C1055.8,2633.3 1066.1,2630.5 1080.7,2625.9 C1095.3,2621.3 1114.6,2615 1131.1,2610.7 C1147.6,2606.4 1161.7,2603.7 1179.9,2600.2 C1198.1,2596.8 1221.8,2593.3 1240.2,2589.8 C1258.6,2586.3 1273.5,2582.7 1290.2,2579.4 C1306.9,2576 1323.9,2572.9 1340.6,2569.9 C1357.3,2566.9 1378.9,2563.2 1390.6,2561.3 C1402.3,2559.4 1404.5,2560.7 1410.7,2558.5 C1416.9,2556.3 1420.9,2553.4 1428,2548.1 C1435.1,2542.7 1445.3,2533 1453.2,2526.2 C1461.2,2519.4 1471.9,2510.4 1475.7,2507.2" fill="none" stroke="#C80040" stroke-width="10.5" stroke-linejoin="round" stroke-linecap="round"/>
<circle cx="845.2" cy="2710.2" r="13.5" fill="#0000FF"/><circle cx="924" cy="2717.7" r="13.5" fill="#0000FF"/><circle cx="1002.7" cy="2725.7" r="13.5" fill="#0000FF"/><circle cx="1081.5" cy="2739.5" r="13.5" fill="#0000FF"/><circle cx="1160.2" cy="2752.5" r="13.5" fill="#0000FF"/><circle cx="1239" cy="2813.9" r="13.5" fill="#0000FF"/><circle cx="1317.8" cy="2885.3" r="13.5" fill="#0000FF"/><circle cx="1396.5" cy="2907.1" r="13.5" fill="#0000FF"/><circle cx="1475.3" cy="2905.9" r="13.5" fill="#0000FF"/>
<circle cx="845.2" cy="2263.4" r="13.5" fill="#FF0000"/><circle cx="924" cy="2305" r="13.5" fill="#FF0000"/><circle cx="1002.7" cy="2354.4" r="13.5" fill="#FF0000"/><circle cx="1081.5" cy="2408.8" r="13.5" fill="#FF0000"/><circle cx="1160.2" cy="2462.7" r="13.5" fill="#FF0000"/><circle cx="1239" cy="2591" r="13.5" fill="#FF0000"/><circle cx="1317.8" cy="2808.1" r="13.5" fill="#FF0000"/><circle cx="1396.5" cy="2897.1" r="13.5" fill="#FF0000"/><circle cx="1475.3" cy="2905.9" r="13.5" fill="#FF0000"/>
<line x1="864.2" y1="2259.1" x2="902.5" y2="2259.1" stroke="#000" stroke-width="3.5"/><path d="M898.5,2254.1 L910.5,2259.1 L898.5,2264.1 Z" fill="#000"/>
<line x1="860.2" y1="2703.1" x2="901.1" y2="2703.1" stroke="#000" stroke-width="3.5"/><path d="M897.1,2698.1 L909.1,2703.1 L897.1,2708.1 Z" fill="#000"/>
<polygon points="821.5,2418 827,2412.5 913.5,2412.5 915,2414 915,2422 913.5,2423.5 827,2423.5" fill="#424242"/>
<polygon points="821.5,2461.7 827,2456.2 913.5,2456.2 915,2457.7 915,2465.7 913.5,2467.2 827,2467.2" fill="#C80040"/>
<circle cx="867.7" cy="2515.4" r="13" fill="#0000FF"/>
<circle cx="867.7" cy="2560.2" r="13" fill="#FF0000"/>
<text x="919" y="2429.9" font-size="30.5" text-anchor="start" fill="#000" letter-spacing="3">Blank</text>
<text y="2474" font-size="30.5" letter-spacing="2"><tspan x="919">Pt</tspan><tspan x="951.5" y="2485.5" font-size="16" letter-spacing="3.5">25</tspan><tspan x="977" y="2474" letter-spacing="3">-Pd</tspan><tspan x="1031.5" y="2485.5" font-size="16" letter-spacing="3.5">75</tspan></text>
<text x="919" y="2528.4" font-size="30.5" text-anchor="start" fill="#000" letter-spacing="2">Pt conc.</text>
<text x="919" y="2572.4" font-size="30.5" text-anchor="start" fill="#000" letter-spacing="2">Pd conc.</text>
<path d="M805.9,2217.8 H1514 V2927.8 H805.9" fill="none" stroke="#000" stroke-width="8" stroke-linecap="square"/>
<line x1="805.9" y1="2217.8" x2="805.9" y2="2927.8" stroke="#C80040" stroke-width="8" stroke-linecap="square"/>
<path d="M845.2,2930.8 V2946.8 M1042.1,2930.8 V2946.8 M1239,2930.8 V2946.8 M1435.9,2930.8 V2946.8 M943.7,2930.8 V2938.3 M1140.6,2930.8 V2938.3 M1337.5,2930.8 V2938.3 M845.2,2220.8 V2241.8 M889.1,2220.8 V2230.3 M933,2220.8 V2230.3 M976.8,2220.8 V2230.3 M1020.7,2220.8 V2230.3 M1064.6,2220.8 V2241.8 M1108.5,2220.8 V2230.3 M1152.3,2220.8 V2230.3 M1196.2,2220.8 V2230.3 M1240.1,2220.8 V2230.3 M1284,2220.8 V2241.8 M1327.9,2220.8 V2230.3 M1371.7,2220.8 V2230.3 M1415.6,2220.8 V2230.3 M1459.5,2220.8 V2230.3 M1503.4,2220.8 V2241.8 M1517,2908.4 H1533 M1517,2850.8 H1524.5 M1517,2793.3 H1533 M1517,2735.8 H1524.5 M1517,2678.2 H1533 M1517,2620.7 H1524.5 M1517,2563.1 H1533 M1517,2505.6 H1524.5 M1517,2448 H1533 M1517,2390.5 H1524.5 M1517,2332.9 H1533 M1517,2275.4 H1524.5 M1517,2217.8 H1533" stroke="#000" stroke-width="7.5" fill="none"/>
<path d="M802.9,2217.8 H789.9 M802.9,2265.2 H797.9 M802.9,2312.7 H789.9 M802.9,2360.2 H797.9 M802.9,2407.6 H789.9 M802.9,2455.1 H797.9 M802.9,2502.5 H789.9 M802.9,2550 H797.9 M802.9,2597.4 H789.9 M802.9,2644.9 H797.9 M802.9,2692.3 H789.9 M802.9,2739.8 H797.9 M802.9,2787.2 H789.9 M802.9,2834.7 H797.9 M802.9,2882.1 H789.9 M802.9,2929.6 H797.9" stroke="#C80040" stroke-width="7.5" fill="none"/>
<text transform="translate(845.2,2993.8) scale(0.940,1)" font-size="50.5" text-anchor="middle">0</text>
<text transform="translate(1042.1,2993.8) scale(0.940,1)" font-size="50.5" text-anchor="middle">5</text>
<text transform="translate(1239,2993.8) scale(0.940,1)" font-size="50.5" text-anchor="middle">10</text>
<text transform="translate(1435.9,2993.8) scale(0.940,1)" font-size="50.5" text-anchor="middle">15</text>
<text transform="translate(845.2,2190.8) scale(0.940,1)" font-size="50.5" text-anchor="middle">0</text>
<text transform="translate(1064.6,2190.8) scale(0.940,1)" font-size="50.5" text-anchor="middle">1000</text>
<text transform="translate(1284,2190.8) scale(0.940,1)" font-size="50.5" text-anchor="middle">2000</text>
<text transform="translate(1503.4,2190.8) scale(0.940,1)" font-size="50.5" text-anchor="middle">3000</text>
<text transform="translate(777.4,2895.6) scale(0.940,1)" font-size="50.5" text-anchor="end">3</text>
<text transform="translate(777.4,2800.7) scale(0.940,1)" font-size="50.5" text-anchor="end">4</text>
<text transform="translate(777.4,2705.8) scale(0.940,1)" font-size="50.5" text-anchor="end">5</text>
<text transform="translate(777.4,2610.9) scale(0.940,1)" font-size="50.5" text-anchor="end">6</text>
<text transform="translate(777.4,2516) scale(0.940,1)" font-size="50.5" text-anchor="end">7</text>
<text transform="translate(777.4,2421.1) scale(0.940,1)" font-size="50.5" text-anchor="end">8</text>
<text transform="translate(777.4,2326.2) scale(0.940,1)" font-size="50.5" text-anchor="end">9</text>
<text transform="translate(777.4,2231.3) scale(0.940,1)" font-size="50.5" text-anchor="end">10</text>
<text transform="translate(1543.5,2919.9) scale(0.940,1)" font-size="50.5" text-anchor="start">0.0</text>
<text transform="translate(1543.5,2804.8) scale(0.940,1)" font-size="50.5" text-anchor="start">0.5</text>
<text transform="translate(1543.5,2689.7) scale(0.940,1)" font-size="50.5" text-anchor="start">1.0</text>
<text transform="translate(1543.5,2574.6) scale(0.940,1)" font-size="50.5" text-anchor="start">1.5</text>
<text transform="translate(1543.5,2459.5) scale(0.940,1)" font-size="50.5" text-anchor="start">2.0</text>
<text transform="translate(1543.5,2344.4) scale(0.940,1)" font-size="50.5" text-anchor="start">2.5</text>
<text transform="translate(1543.5,2229.3) scale(0.940,1)" font-size="50.5" text-anchor="start">3.0</text>
<text transform="translate(1157.5,3049.3) scale(0.952,1)" font-size="50.4" text-anchor="middle">time (min)</text>
<text transform="translate(842.9,2130.8) scale(0.975,1)" font-size="49.5" text-anchor="start">Volume charge density (C L<tspan font-size="29" dy="-23">-1</tspan><tspan dy="23" dx="3">)</tspan></text>
<text transform="translate(728.9,2534.1) rotate(-90)" font-size="50" text-anchor="middle">pH</text>
<text transform="translate(1625,2543.8) rotate(90)" font-size="50" text-anchor="middle">Concentration (mM)</text>
<text transform="translate(711.9,2152.8) scale(0.890,1)" font-size="87" text-anchor="start">e<tspan font-size="82" dx="4">)</tspan></text>
</svg>
</body></html>
